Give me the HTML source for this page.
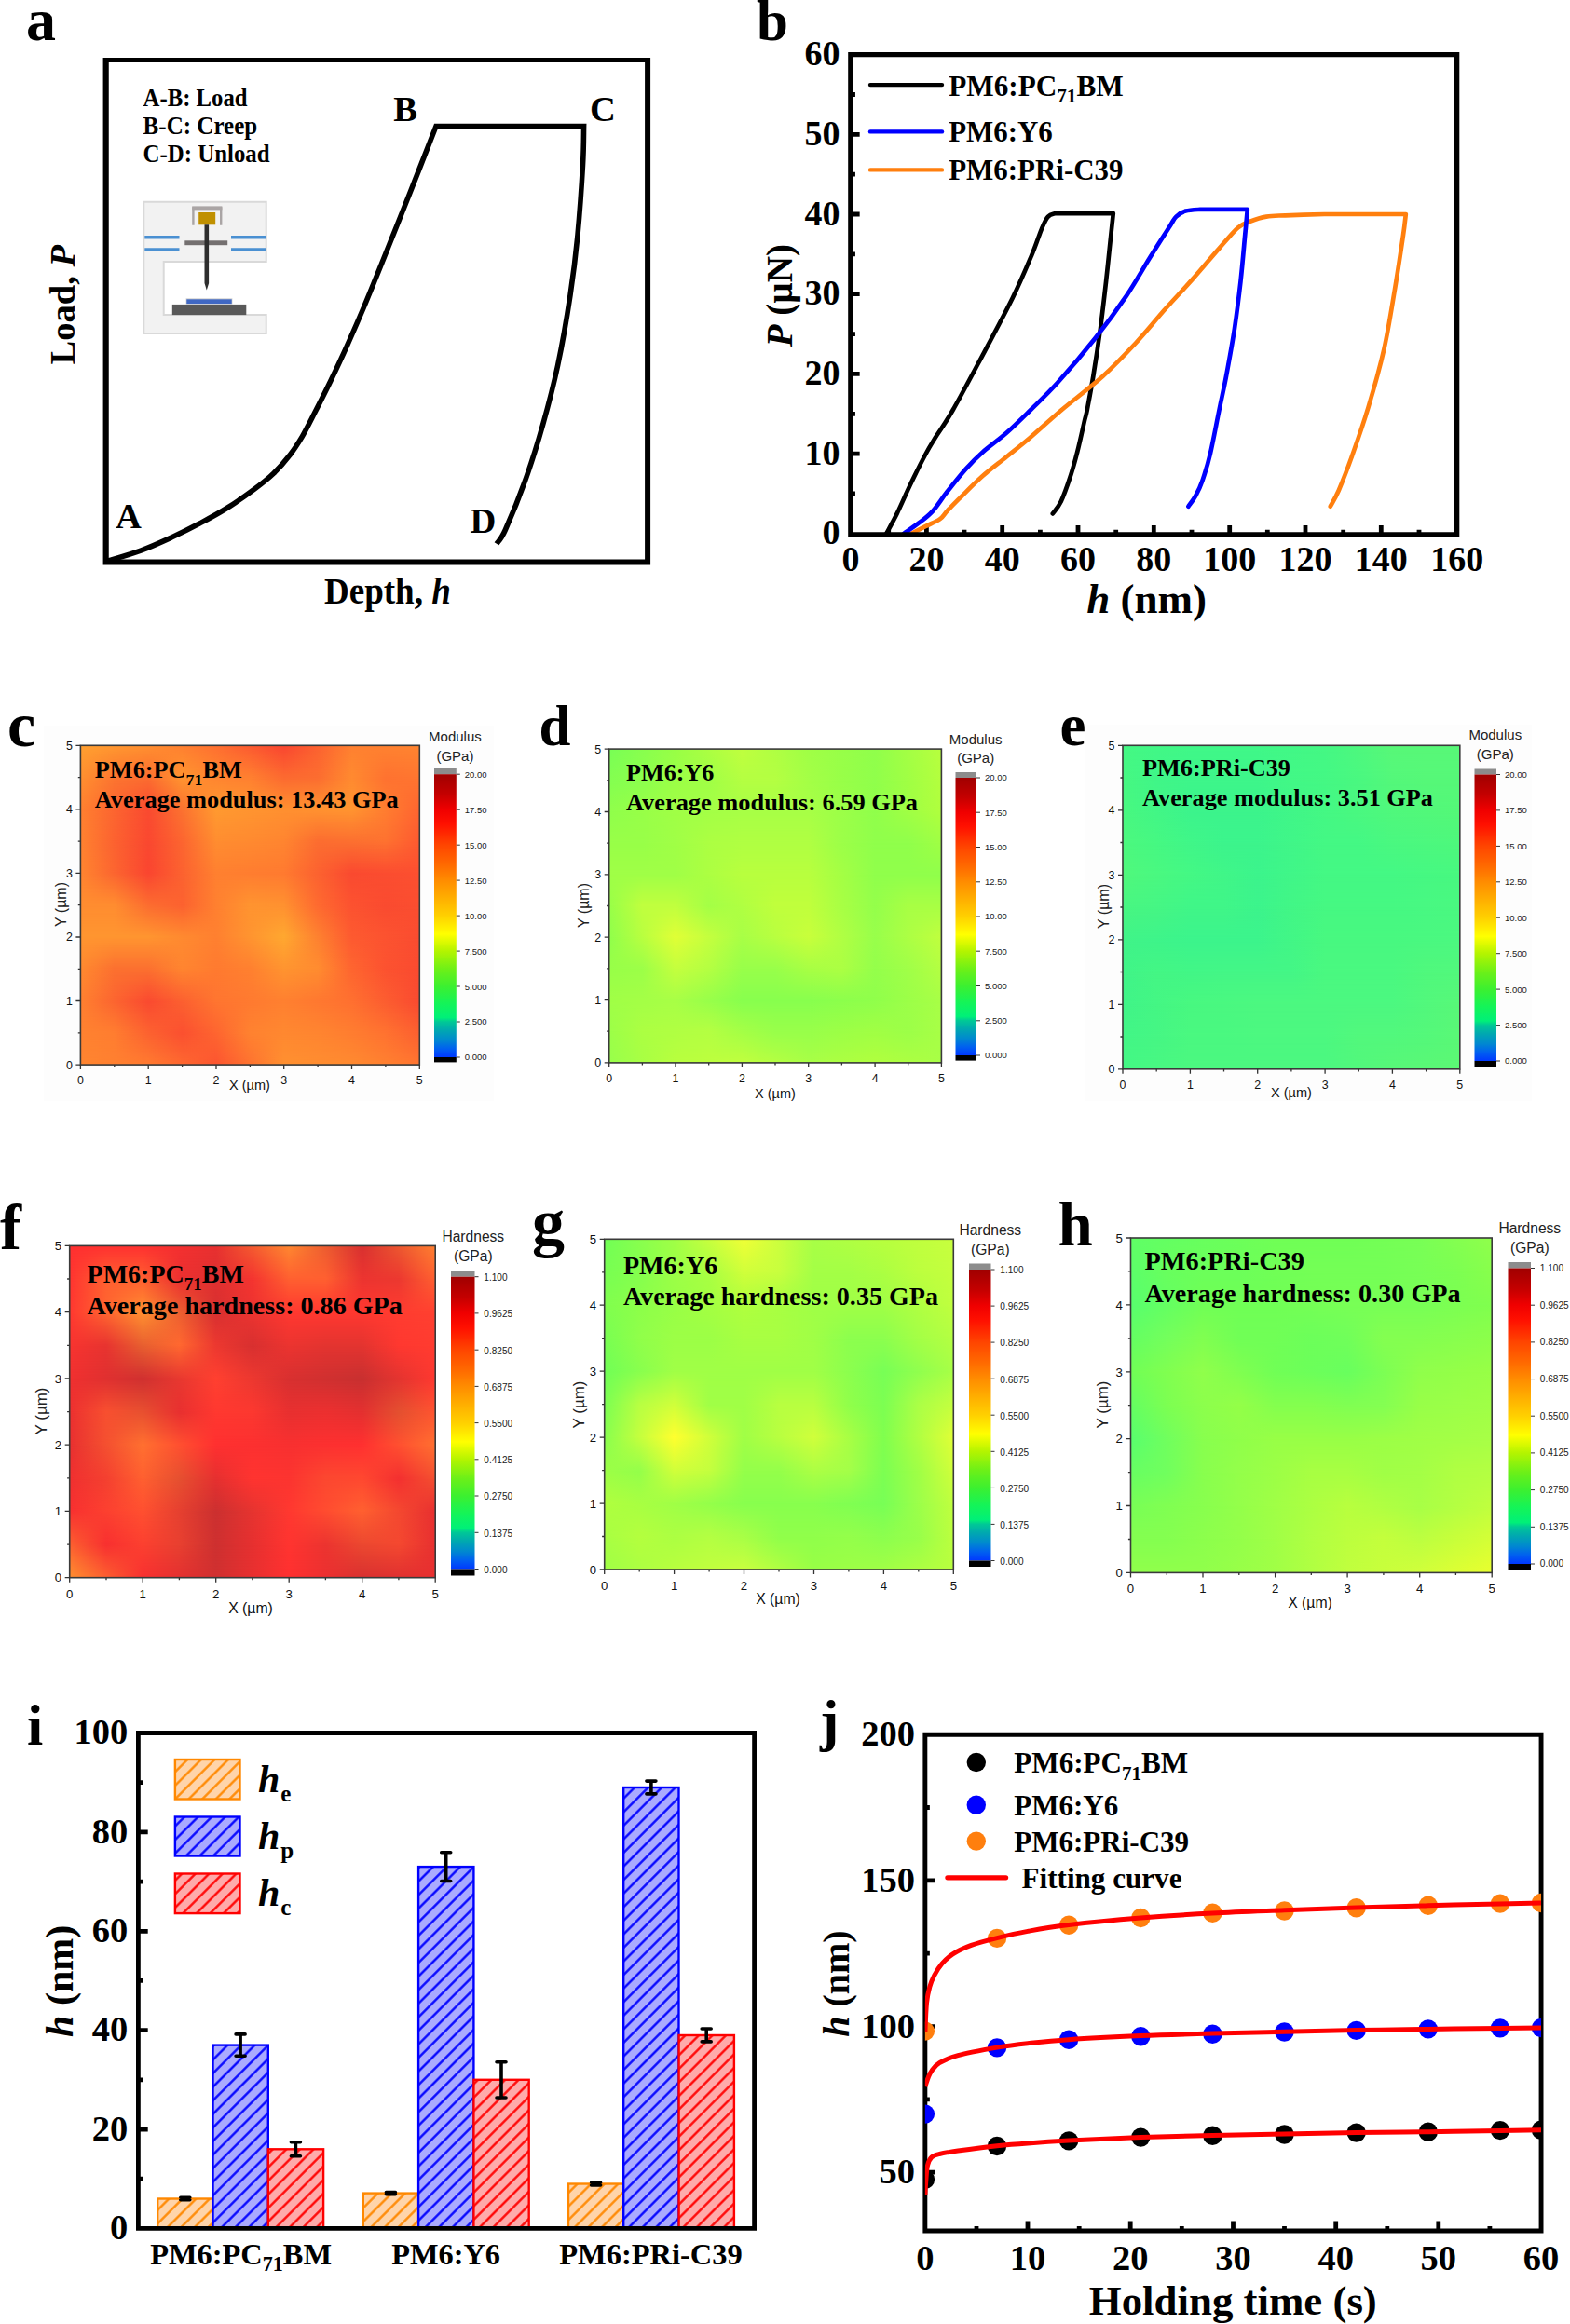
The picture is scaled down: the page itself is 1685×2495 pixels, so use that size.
<!DOCTYPE html>
<html lang="en"><head><meta charset="utf-8"><title>Nanoindentation figure</title>
<style>
html,body{margin:0;padding:0;background:#fff}
svg{display:block}
text{font-family:"Liberation Serif", serif;font-weight:bold;white-space:pre}
text.s{font-family:"Liberation Sans", sans-serif;font-weight:normal}
</style></head><body>
<svg width="1685" height="2495" viewBox="0 0 1685 2495">
<defs>
<linearGradient id="cbar" x1="0" y1="0" x2="0" y2="1"><stop offset="0" stop-color="#a00000"/><stop offset="0.07" stop-color="#c40000"/><stop offset="0.125" stop-color="#f00000"/><stop offset="0.175" stop-color="#ff1000"/><stop offset="0.25" stop-color="#ff4500"/><stop offset="0.32" stop-color="#ff6a00"/><stop offset="0.375" stop-color="#ff8c00"/><stop offset="0.44" stop-color="#ffb000"/><stop offset="0.5" stop-color="#ffd000"/><stop offset="0.565" stop-color="#ffff00"/><stop offset="0.625" stop-color="#b4f400"/><stop offset="0.69" stop-color="#6cf018"/><stop offset="0.75" stop-color="#3cf030"/><stop offset="0.81" stop-color="#14f458"/><stop offset="0.86" stop-color="#00f078"/><stop offset="0.875" stop-color="#00c896"/><stop offset="0.905" stop-color="#00a8b0"/><stop offset="0.94" stop-color="#0088d0"/><stop offset="0.97" stop-color="#0060f0"/><stop offset="1" stop-color="#0038ff"/></linearGradient>
<linearGradient id="vg" x1="0" y1="0" x2="0" y2="1"><stop offset="0" stop-color="#fff" stop-opacity="0"/><stop offset="1" stop-color="#fff" stop-opacity="1"/></linearGradient>
<mask id="vf" maskContentUnits="objectBoundingBox" style="mask-type:alpha"><rect width="1" height="1" fill="url(#vg)"/></mask>
<linearGradient id="c0"><stop offset="0.00" stop-color="#ffa030"/><stop offset="0.10" stop-color="#ff9830"/><stop offset="0.20" stop-color="#ff9030"/><stop offset="0.30" stop-color="#ff8030"/><stop offset="0.40" stop-color="#ff7030"/><stop offset="0.50" stop-color="#fc5a30"/><stop offset="0.60" stop-color="#fa4530"/><stop offset="0.70" stop-color="#fc6230"/><stop offset="0.80" stop-color="#ff8030"/><stop offset="0.90" stop-color="#ff8230"/><stop offset="1.00" stop-color="#ff8530"/></linearGradient>
<linearGradient id="c1"><stop offset="0.00" stop-color="#ff9030"/><stop offset="0.10" stop-color="#fc7530"/><stop offset="0.20" stop-color="#fc6d30"/><stop offset="0.30" stop-color="#ff9530"/><stop offset="0.40" stop-color="#ff8530"/><stop offset="0.50" stop-color="#ff8030"/><stop offset="0.60" stop-color="#fc6a30"/><stop offset="0.70" stop-color="#fc6d30"/><stop offset="0.80" stop-color="#ff8a30"/><stop offset="0.90" stop-color="#ff7230"/><stop offset="1.00" stop-color="#ff7530"/></linearGradient>
<linearGradient id="c2"><stop offset="0.00" stop-color="#ff8030"/><stop offset="0.10" stop-color="#fc6530"/><stop offset="0.20" stop-color="#fa4a30"/><stop offset="0.30" stop-color="#fc7230"/><stop offset="0.40" stop-color="#ff9a30"/><stop offset="0.50" stop-color="#ff9530"/><stop offset="0.60" stop-color="#ff9030"/><stop offset="0.70" stop-color="#ff9230"/><stop offset="0.80" stop-color="#ff9530"/><stop offset="0.90" stop-color="#ff7d30"/><stop offset="1.00" stop-color="#ff6530"/></linearGradient>
<linearGradient id="c3"><stop offset="0.00" stop-color="#ff8230"/><stop offset="0.10" stop-color="#fc6230"/><stop offset="0.20" stop-color="#fa4830"/><stop offset="0.30" stop-color="#fc6530"/><stop offset="0.40" stop-color="#ff8d30"/><stop offset="0.50" stop-color="#ff8a30"/><stop offset="0.60" stop-color="#ff8530"/><stop offset="0.70" stop-color="#fc6d30"/><stop offset="0.80" stop-color="#fc7030"/><stop offset="0.90" stop-color="#fe7230"/><stop offset="1.00" stop-color="#fe5a30"/></linearGradient>
<linearGradient id="c4"><stop offset="0.00" stop-color="#ff8530"/><stop offset="0.10" stop-color="#fc6530"/><stop offset="0.20" stop-color="#fa4530"/><stop offset="0.30" stop-color="#fc6230"/><stop offset="0.40" stop-color="#ff8030"/><stop offset="0.50" stop-color="#ff7d30"/><stop offset="0.60" stop-color="#ff7a30"/><stop offset="0.70" stop-color="#fc6230"/><stop offset="0.80" stop-color="#fa4a30"/><stop offset="0.90" stop-color="#fb4d30"/><stop offset="1.00" stop-color="#fc5030"/></linearGradient>
<linearGradient id="c5"><stop offset="0.00" stop-color="#ff8d30"/><stop offset="0.10" stop-color="#ff8d30"/><stop offset="0.20" stop-color="#fc6d30"/><stop offset="0.30" stop-color="#fc6230"/><stop offset="0.40" stop-color="#ff8030"/><stop offset="0.50" stop-color="#ff9430"/><stop offset="0.60" stop-color="#ff9130"/><stop offset="0.70" stop-color="#fe6a30"/><stop offset="0.80" stop-color="#fc5230"/><stop offset="0.90" stop-color="#fa4b30"/><stop offset="1.00" stop-color="#fb4e30"/></linearGradient>
<linearGradient id="c6"><stop offset="0.00" stop-color="#ff9530"/><stop offset="0.10" stop-color="#ff9530"/><stop offset="0.20" stop-color="#ff9530"/><stop offset="0.30" stop-color="#ff8a30"/><stop offset="0.40" stop-color="#ff8030"/><stop offset="0.50" stop-color="#ff9430"/><stop offset="0.60" stop-color="#ffa830"/><stop offset="0.70" stop-color="#fe8130"/><stop offset="0.80" stop-color="#fd5a30"/><stop offset="0.90" stop-color="#fc5330"/><stop offset="1.00" stop-color="#fa4c30"/></linearGradient>
<linearGradient id="c7"><stop offset="0.00" stop-color="#ff8a30"/><stop offset="0.10" stop-color="#fc7030"/><stop offset="0.20" stop-color="#fc7030"/><stop offset="0.30" stop-color="#ff8530"/><stop offset="0.40" stop-color="#ff7a30"/><stop offset="0.50" stop-color="#ff8030"/><stop offset="0.60" stop-color="#ff9430"/><stop offset="0.70" stop-color="#ff8c30"/><stop offset="0.80" stop-color="#fe6530"/><stop offset="0.90" stop-color="#fc5230"/><stop offset="1.00" stop-color="#fa4b30"/></linearGradient>
<linearGradient id="c8"><stop offset="0.00" stop-color="#ff8030"/><stop offset="0.10" stop-color="#fc6530"/><stop offset="0.20" stop-color="#fa4a30"/><stop offset="0.30" stop-color="#fc6030"/><stop offset="0.40" stop-color="#ff7530"/><stop offset="0.50" stop-color="#ff7a30"/><stop offset="0.60" stop-color="#ff8030"/><stop offset="0.70" stop-color="#ff7830"/><stop offset="0.80" stop-color="#ff7030"/><stop offset="0.90" stop-color="#fc5d30"/><stop offset="1.00" stop-color="#fa4a30"/></linearGradient>
<linearGradient id="c9"><stop offset="0.00" stop-color="#ff8230"/><stop offset="0.10" stop-color="#ff7d30"/><stop offset="0.20" stop-color="#fc6230"/><stop offset="0.30" stop-color="#fb5030"/><stop offset="0.40" stop-color="#fe6530"/><stop offset="0.50" stop-color="#ff8230"/><stop offset="0.60" stop-color="#ff8830"/><stop offset="0.70" stop-color="#ff8530"/><stop offset="0.80" stop-color="#ff7d30"/><stop offset="0.90" stop-color="#ff7230"/><stop offset="1.00" stop-color="#fc6030"/></linearGradient>
<linearGradient id="c10"><stop offset="0.00" stop-color="#ff8530"/><stop offset="0.10" stop-color="#ff8030"/><stop offset="0.20" stop-color="#ff7a30"/><stop offset="0.30" stop-color="#fe6830"/><stop offset="0.40" stop-color="#fc5530"/><stop offset="0.50" stop-color="#fe7230"/><stop offset="0.60" stop-color="#ff9030"/><stop offset="0.70" stop-color="#ff8d30"/><stop offset="0.80" stop-color="#ff8a30"/><stop offset="0.90" stop-color="#ff8030"/><stop offset="1.00" stop-color="#ff7530"/></linearGradient>
<linearGradient id="d0"><stop offset="0.00" stop-color="#78ff56"/><stop offset="0.10" stop-color="#88ff4e"/><stop offset="0.20" stop-color="#98ff46"/><stop offset="0.30" stop-color="#acff42"/><stop offset="0.40" stop-color="#c0ff3e"/><stop offset="0.50" stop-color="#b0ff42"/><stop offset="0.60" stop-color="#a0ff46"/><stop offset="0.70" stop-color="#98ff48"/><stop offset="0.80" stop-color="#90ff4b"/><stop offset="0.90" stop-color="#a4ff44"/><stop offset="1.00" stop-color="#b8ff3e"/></linearGradient>
<linearGradient id="d1"><stop offset="0.00" stop-color="#84ff50"/><stop offset="0.10" stop-color="#8cff4e"/><stop offset="0.20" stop-color="#9cff46"/><stop offset="0.30" stop-color="#a0ff46"/><stop offset="0.40" stop-color="#b4ff42"/><stop offset="0.50" stop-color="#b4ff42"/><stop offset="0.60" stop-color="#a4ff46"/><stop offset="0.70" stop-color="#98ff48"/><stop offset="0.80" stop-color="#90ff4b"/><stop offset="0.90" stop-color="#a0ff44"/><stop offset="1.00" stop-color="#b4ff3e"/></linearGradient>
<linearGradient id="d2"><stop offset="0.00" stop-color="#90ff4b"/><stop offset="0.10" stop-color="#98ff48"/><stop offset="0.20" stop-color="#a0ff46"/><stop offset="0.30" stop-color="#a4ff46"/><stop offset="0.40" stop-color="#a8ff46"/><stop offset="0.50" stop-color="#a8ff46"/><stop offset="0.60" stop-color="#a8ff46"/><stop offset="0.70" stop-color="#9cff48"/><stop offset="0.80" stop-color="#90ff4b"/><stop offset="0.90" stop-color="#a0ff44"/><stop offset="1.00" stop-color="#b0ff3e"/></linearGradient>
<linearGradient id="d3"><stop offset="0.00" stop-color="#98ff48"/><stop offset="0.10" stop-color="#98ff48"/><stop offset="0.20" stop-color="#a0ff46"/><stop offset="0.30" stop-color="#acff42"/><stop offset="0.40" stop-color="#b0ff42"/><stop offset="0.50" stop-color="#b0ff42"/><stop offset="0.60" stop-color="#b0ff42"/><stop offset="0.70" stop-color="#9cff48"/><stop offset="0.80" stop-color="#90ff4b"/><stop offset="0.90" stop-color="#90ff4b"/><stop offset="1.00" stop-color="#a0ff44"/></linearGradient>
<linearGradient id="d4"><stop offset="0.00" stop-color="#a0ff46"/><stop offset="0.10" stop-color="#a0ff46"/><stop offset="0.20" stop-color="#a0ff46"/><stop offset="0.30" stop-color="#acff42"/><stop offset="0.40" stop-color="#b8ff3e"/><stop offset="0.50" stop-color="#b8ff3e"/><stop offset="0.60" stop-color="#b8ff3e"/><stop offset="0.70" stop-color="#a4ff44"/><stop offset="0.80" stop-color="#90ff4b"/><stop offset="0.90" stop-color="#90ff4b"/><stop offset="1.00" stop-color="#90ff4b"/></linearGradient>
<linearGradient id="d5"><stop offset="0.00" stop-color="#98ff48"/><stop offset="0.10" stop-color="#c0ff3e"/><stop offset="0.20" stop-color="#c0ff3e"/><stop offset="0.30" stop-color="#a4ff46"/><stop offset="0.40" stop-color="#b0ff42"/><stop offset="0.50" stop-color="#c0ff3c"/><stop offset="0.60" stop-color="#c0ff3c"/><stop offset="0.70" stop-color="#a8ff44"/><stop offset="0.80" stop-color="#94ff4b"/><stop offset="0.90" stop-color="#a8ff44"/><stop offset="1.00" stop-color="#a8ff44"/></linearGradient>
<linearGradient id="d6"><stop offset="0.00" stop-color="#90ff4b"/><stop offset="0.10" stop-color="#b8ff40"/><stop offset="0.20" stop-color="#e0ff36"/><stop offset="0.30" stop-color="#c4ff3e"/><stop offset="0.40" stop-color="#a8ff46"/><stop offset="0.50" stop-color="#b8ff40"/><stop offset="0.60" stop-color="#c8ff3b"/><stop offset="0.70" stop-color="#b0ff43"/><stop offset="0.80" stop-color="#98ff4b"/><stop offset="0.90" stop-color="#acff44"/><stop offset="1.00" stop-color="#c0ff3e"/></linearGradient>
<linearGradient id="d7"><stop offset="0.00" stop-color="#98ff48"/><stop offset="0.10" stop-color="#9cff48"/><stop offset="0.20" stop-color="#c4ff3e"/><stop offset="0.30" stop-color="#b4ff42"/><stop offset="0.40" stop-color="#98ff4a"/><stop offset="0.50" stop-color="#98ff4a"/><stop offset="0.60" stop-color="#a8ff44"/><stop offset="0.70" stop-color="#acff43"/><stop offset="0.80" stop-color="#94ff4b"/><stop offset="0.90" stop-color="#a0ff48"/><stop offset="1.00" stop-color="#b4ff42"/></linearGradient>
<linearGradient id="d8"><stop offset="0.00" stop-color="#a0ff46"/><stop offset="0.10" stop-color="#a4ff46"/><stop offset="0.20" stop-color="#a8ff46"/><stop offset="0.30" stop-color="#98ff4a"/><stop offset="0.40" stop-color="#88ff4e"/><stop offset="0.50" stop-color="#88ff4e"/><stop offset="0.60" stop-color="#88ff4e"/><stop offset="0.70" stop-color="#8cff4c"/><stop offset="0.80" stop-color="#90ff4b"/><stop offset="0.90" stop-color="#9cff48"/><stop offset="1.00" stop-color="#a8ff46"/></linearGradient>
<linearGradient id="d9"><stop offset="0.00" stop-color="#9cff48"/><stop offset="0.10" stop-color="#acff42"/><stop offset="0.20" stop-color="#b0ff42"/><stop offset="0.30" stop-color="#b4ff42"/><stop offset="0.40" stop-color="#a4ff46"/><stop offset="0.50" stop-color="#98ff4a"/><stop offset="0.60" stop-color="#98ff4a"/><stop offset="0.70" stop-color="#9cff46"/><stop offset="0.80" stop-color="#a0ff44"/><stop offset="0.90" stop-color="#9cff48"/><stop offset="1.00" stop-color="#a8ff46"/></linearGradient>
<linearGradient id="d10"><stop offset="0.00" stop-color="#98ff4b"/><stop offset="0.10" stop-color="#a8ff44"/><stop offset="0.20" stop-color="#b8ff3e"/><stop offset="0.30" stop-color="#bcff3e"/><stop offset="0.40" stop-color="#c0ff3e"/><stop offset="0.50" stop-color="#b4ff42"/><stop offset="0.60" stop-color="#a8ff46"/><stop offset="0.70" stop-color="#acff42"/><stop offset="0.80" stop-color="#b0ff3e"/><stop offset="0.90" stop-color="#acff42"/><stop offset="1.00" stop-color="#a8ff46"/></linearGradient>
<linearGradient id="e0"><stop offset="0.00" stop-color="#44f884"/><stop offset="0.10" stop-color="#42f886"/><stop offset="0.20" stop-color="#40f888"/><stop offset="0.30" stop-color="#40f888"/><stop offset="0.40" stop-color="#40f888"/><stop offset="0.50" stop-color="#42f886"/><stop offset="0.60" stop-color="#44f884"/><stop offset="0.70" stop-color="#4ef87e"/><stop offset="0.80" stop-color="#58f878"/><stop offset="0.90" stop-color="#58f878"/><stop offset="1.00" stop-color="#58f878"/></linearGradient>
<linearGradient id="e1"><stop offset="0.00" stop-color="#46f882"/><stop offset="0.10" stop-color="#40f688"/><stop offset="0.20" stop-color="#3ef68a"/><stop offset="0.30" stop-color="#3ef68a"/><stop offset="0.40" stop-color="#3ef68a"/><stop offset="0.50" stop-color="#42f886"/><stop offset="0.60" stop-color="#44f884"/><stop offset="0.70" stop-color="#4af880"/><stop offset="0.80" stop-color="#54f87a"/><stop offset="0.90" stop-color="#56f878"/><stop offset="1.00" stop-color="#56f878"/></linearGradient>
<linearGradient id="e2"><stop offset="0.00" stop-color="#48f880"/><stop offset="0.10" stop-color="#42f686"/><stop offset="0.20" stop-color="#3cf48c"/><stop offset="0.30" stop-color="#3cf48c"/><stop offset="0.40" stop-color="#3cf48c"/><stop offset="0.50" stop-color="#40f688"/><stop offset="0.60" stop-color="#44f884"/><stop offset="0.70" stop-color="#4af880"/><stop offset="0.80" stop-color="#50f87c"/><stop offset="0.90" stop-color="#52f87a"/><stop offset="1.00" stop-color="#54f878"/></linearGradient>
<linearGradient id="e3"><stop offset="0.00" stop-color="#4cf87e"/><stop offset="0.10" stop-color="#46f882"/><stop offset="0.20" stop-color="#40f688"/><stop offset="0.30" stop-color="#3cf48c"/><stop offset="0.40" stop-color="#3cf48c"/><stop offset="0.50" stop-color="#40f688"/><stop offset="0.60" stop-color="#44f884"/><stop offset="0.70" stop-color="#44f884"/><stop offset="0.80" stop-color="#4af880"/><stop offset="0.90" stop-color="#4cf87e"/><stop offset="1.00" stop-color="#4ef87c"/></linearGradient>
<linearGradient id="e4"><stop offset="0.00" stop-color="#50f87c"/><stop offset="0.10" stop-color="#4af880"/><stop offset="0.20" stop-color="#44f884"/><stop offset="0.30" stop-color="#40f688"/><stop offset="0.40" stop-color="#3cf48c"/><stop offset="0.50" stop-color="#40f688"/><stop offset="0.60" stop-color="#44f884"/><stop offset="0.70" stop-color="#44f884"/><stop offset="0.80" stop-color="#44f884"/><stop offset="0.90" stop-color="#46f882"/><stop offset="1.00" stop-color="#48f880"/></linearGradient>
<linearGradient id="e5"><stop offset="0.00" stop-color="#48f682"/><stop offset="0.10" stop-color="#46f684"/><stop offset="0.20" stop-color="#40f688"/><stop offset="0.30" stop-color="#40f688"/><stop offset="0.40" stop-color="#3cf48c"/><stop offset="0.50" stop-color="#42f686"/><stop offset="0.60" stop-color="#46f882"/><stop offset="0.70" stop-color="#46f882"/><stop offset="0.80" stop-color="#46f882"/><stop offset="0.90" stop-color="#48f882"/><stop offset="1.00" stop-color="#4af880"/></linearGradient>
<linearGradient id="e6"><stop offset="0.00" stop-color="#40f488"/><stop offset="0.10" stop-color="#3ef48a"/><stop offset="0.20" stop-color="#3cf48c"/><stop offset="0.30" stop-color="#3cf48c"/><stop offset="0.40" stop-color="#3cf48c"/><stop offset="0.50" stop-color="#42f686"/><stop offset="0.60" stop-color="#48f880"/><stop offset="0.70" stop-color="#48f880"/><stop offset="0.80" stop-color="#48f880"/><stop offset="0.90" stop-color="#4af880"/><stop offset="1.00" stop-color="#4cf880"/></linearGradient>
<linearGradient id="e7"><stop offset="0.00" stop-color="#40f488"/><stop offset="0.10" stop-color="#44f684"/><stop offset="0.20" stop-color="#42f686"/><stop offset="0.30" stop-color="#44f686"/><stop offset="0.40" stop-color="#44f686"/><stop offset="0.50" stop-color="#44f686"/><stop offset="0.60" stop-color="#4af880"/><stop offset="0.70" stop-color="#4af880"/><stop offset="0.80" stop-color="#4af880"/><stop offset="0.90" stop-color="#50f87c"/><stop offset="1.00" stop-color="#52f87c"/></linearGradient>
<linearGradient id="e8"><stop offset="0.00" stop-color="#40f488"/><stop offset="0.10" stop-color="#44f684"/><stop offset="0.20" stop-color="#48f880"/><stop offset="0.30" stop-color="#4af880"/><stop offset="0.40" stop-color="#4cf880"/><stop offset="0.50" stop-color="#4cf880"/><stop offset="0.60" stop-color="#4cf880"/><stop offset="0.70" stop-color="#4cf880"/><stop offset="0.80" stop-color="#4cf880"/><stop offset="0.90" stop-color="#52f87c"/><stop offset="1.00" stop-color="#58f878"/></linearGradient>
<linearGradient id="e9"><stop offset="0.00" stop-color="#42f686"/><stop offset="0.10" stop-color="#46f684"/><stop offset="0.20" stop-color="#4af880"/><stop offset="0.30" stop-color="#4af880"/><stop offset="0.40" stop-color="#4cf880"/><stop offset="0.50" stop-color="#4cf880"/><stop offset="0.60" stop-color="#4cf880"/><stop offset="0.70" stop-color="#52f87c"/><stop offset="0.80" stop-color="#52f87c"/><stop offset="0.90" stop-color="#54f87a"/><stop offset="1.00" stop-color="#5af876"/></linearGradient>
<linearGradient id="e10"><stop offset="0.00" stop-color="#44f884"/><stop offset="0.10" stop-color="#48f882"/><stop offset="0.20" stop-color="#4cf880"/><stop offset="0.30" stop-color="#4cf880"/><stop offset="0.40" stop-color="#4cf880"/><stop offset="0.50" stop-color="#4cf880"/><stop offset="0.60" stop-color="#4cf880"/><stop offset="0.70" stop-color="#52f87c"/><stop offset="0.80" stop-color="#58f878"/><stop offset="0.90" stop-color="#5af876"/><stop offset="1.00" stop-color="#5cf874"/></linearGradient>
<linearGradient id="f0"><stop offset="0.00" stop-color="#ff3030"/><stop offset="0.10" stop-color="#ff3030"/><stop offset="0.20" stop-color="#ff3030"/><stop offset="0.30" stop-color="#f43030"/><stop offset="0.40" stop-color="#e83030"/><stop offset="0.50" stop-color="#f45c30"/><stop offset="0.60" stop-color="#ff8830"/><stop offset="0.70" stop-color="#ec5c30"/><stop offset="0.80" stop-color="#d83030"/><stop offset="0.90" stop-color="#ec5830"/><stop offset="1.00" stop-color="#ff8030"/></linearGradient>
<linearGradient id="f1"><stop offset="0.00" stop-color="#ff3430"/><stop offset="0.10" stop-color="#ff6030"/><stop offset="0.20" stop-color="#ff6030"/><stop offset="0.30" stop-color="#ec3030"/><stop offset="0.40" stop-color="#e03030"/><stop offset="0.50" stop-color="#f43430"/><stop offset="0.60" stop-color="#ff6030"/><stop offset="0.70" stop-color="#ff6030"/><stop offset="0.80" stop-color="#ec3430"/><stop offset="0.90" stop-color="#ec3830"/><stop offset="1.00" stop-color="#ff6030"/></linearGradient>
<linearGradient id="f2"><stop offset="0.00" stop-color="#ff3830"/><stop offset="0.10" stop-color="#ff6430"/><stop offset="0.20" stop-color="#ff9030"/><stop offset="0.30" stop-color="#ec6030"/><stop offset="0.40" stop-color="#d83030"/><stop offset="0.50" stop-color="#ec3430"/><stop offset="0.60" stop-color="#ff3830"/><stop offset="0.70" stop-color="#ff3830"/><stop offset="0.80" stop-color="#ff3830"/><stop offset="0.90" stop-color="#ff3c30"/><stop offset="1.00" stop-color="#ff4030"/></linearGradient>
<linearGradient id="f3"><stop offset="0.00" stop-color="#f83430"/><stop offset="0.10" stop-color="#e83430"/><stop offset="0.20" stop-color="#e86030"/><stop offset="0.30" stop-color="#ff6830"/><stop offset="0.40" stop-color="#ec3830"/><stop offset="0.50" stop-color="#d83030"/><stop offset="0.60" stop-color="#ec3430"/><stop offset="0.70" stop-color="#e43430"/><stop offset="0.80" stop-color="#e43430"/><stop offset="0.90" stop-color="#ff3830"/><stop offset="1.00" stop-color="#ff3c30"/></linearGradient>
<linearGradient id="f4"><stop offset="0.00" stop-color="#f03030"/><stop offset="0.10" stop-color="#e03030"/><stop offset="0.20" stop-color="#d03030"/><stop offset="0.30" stop-color="#e83830"/><stop offset="0.40" stop-color="#ff4030"/><stop offset="0.50" stop-color="#ec3830"/><stop offset="0.60" stop-color="#d83030"/><stop offset="0.70" stop-color="#d03030"/><stop offset="0.80" stop-color="#c83030"/><stop offset="0.90" stop-color="#e43430"/><stop offset="1.00" stop-color="#ff3830"/></linearGradient>
<linearGradient id="f5"><stop offset="0.00" stop-color="#ec3030"/><stop offset="0.10" stop-color="#f85030"/><stop offset="0.20" stop-color="#e85030"/><stop offset="0.30" stop-color="#e83030"/><stop offset="0.40" stop-color="#ff3830"/><stop offset="0.50" stop-color="#fc3830"/><stop offset="0.60" stop-color="#e83030"/><stop offset="0.70" stop-color="#ec3030"/><stop offset="0.80" stop-color="#e43030"/><stop offset="0.90" stop-color="#e45030"/><stop offset="1.00" stop-color="#ff5430"/></linearGradient>
<linearGradient id="f6"><stop offset="0.00" stop-color="#e83030"/><stop offset="0.10" stop-color="#f45030"/><stop offset="0.20" stop-color="#ff7030"/><stop offset="0.30" stop-color="#ff5030"/><stop offset="0.40" stop-color="#ff3030"/><stop offset="0.50" stop-color="#fc3030"/><stop offset="0.60" stop-color="#f83030"/><stop offset="0.70" stop-color="#fc3030"/><stop offset="0.80" stop-color="#ff3030"/><stop offset="0.90" stop-color="#ff5030"/><stop offset="1.00" stop-color="#ff7030"/></linearGradient>
<linearGradient id="f7"><stop offset="0.00" stop-color="#f03030"/><stop offset="0.10" stop-color="#f44030"/><stop offset="0.20" stop-color="#ff6030"/><stop offset="0.30" stop-color="#e65030"/><stop offset="0.40" stop-color="#e63030"/><stop offset="0.50" stop-color="#ff3430"/><stop offset="0.60" stop-color="#fc3430"/><stop offset="0.70" stop-color="#fc4830"/><stop offset="0.80" stop-color="#ff4830"/><stop offset="0.90" stop-color="#f43030"/><stop offset="1.00" stop-color="#f45030"/></linearGradient>
<linearGradient id="f8"><stop offset="0.00" stop-color="#f83030"/><stop offset="0.10" stop-color="#fc4030"/><stop offset="0.20" stop-color="#ff5030"/><stop offset="0.30" stop-color="#e64030"/><stop offset="0.40" stop-color="#cc3030"/><stop offset="0.50" stop-color="#e63430"/><stop offset="0.60" stop-color="#ff3830"/><stop offset="0.70" stop-color="#ff4c30"/><stop offset="0.80" stop-color="#ff6030"/><stop offset="0.90" stop-color="#f44830"/><stop offset="1.00" stop-color="#e83030"/></linearGradient>
<linearGradient id="f9"><stop offset="0.00" stop-color="#fc6030"/><stop offset="0.10" stop-color="#f83030"/><stop offset="0.20" stop-color="#fc4030"/><stop offset="0.30" stop-color="#e84030"/><stop offset="0.40" stop-color="#ce3030"/><stop offset="0.50" stop-color="#e63030"/><stop offset="0.60" stop-color="#ff3430"/><stop offset="0.70" stop-color="#ec3430"/><stop offset="0.80" stop-color="#ec4830"/><stop offset="0.90" stop-color="#f44830"/><stop offset="1.00" stop-color="#e83030"/></linearGradient>
<linearGradient id="f10"><stop offset="0.00" stop-color="#ff9030"/><stop offset="0.10" stop-color="#fc6030"/><stop offset="0.20" stop-color="#f83030"/><stop offset="0.30" stop-color="#e43030"/><stop offset="0.40" stop-color="#d03030"/><stop offset="0.50" stop-color="#e83030"/><stop offset="0.60" stop-color="#ff3030"/><stop offset="0.70" stop-color="#ec3030"/><stop offset="0.80" stop-color="#d83030"/><stop offset="0.90" stop-color="#e03030"/><stop offset="1.00" stop-color="#e83030"/></linearGradient>
<linearGradient id="g0"><stop offset="0.00" stop-color="#70ff56"/><stop offset="0.10" stop-color="#88ff4e"/><stop offset="0.20" stop-color="#a0ff46"/><stop offset="0.30" stop-color="#c8ff3e"/><stop offset="0.40" stop-color="#f0ff36"/><stop offset="0.50" stop-color="#ccff3e"/><stop offset="0.60" stop-color="#a8ff46"/><stop offset="0.70" stop-color="#b0ff42"/><stop offset="0.80" stop-color="#b8ff3e"/><stop offset="0.90" stop-color="#c0ff3e"/><stop offset="1.00" stop-color="#c8ff3e"/></linearGradient>
<linearGradient id="g1"><stop offset="0.00" stop-color="#78ff52"/><stop offset="0.10" stop-color="#84ff4e"/><stop offset="0.20" stop-color="#9cff46"/><stop offset="0.30" stop-color="#a8ff42"/><stop offset="0.40" stop-color="#d0ff3a"/><stop offset="0.50" stop-color="#c8ff3e"/><stop offset="0.60" stop-color="#a4ff46"/><stop offset="0.70" stop-color="#a4ff46"/><stop offset="0.80" stop-color="#acff42"/><stop offset="0.90" stop-color="#bcff3e"/><stop offset="1.00" stop-color="#c4ff3e"/></linearGradient>
<linearGradient id="g2"><stop offset="0.00" stop-color="#80ff4e"/><stop offset="0.10" stop-color="#8cff4a"/><stop offset="0.20" stop-color="#98ff46"/><stop offset="0.30" stop-color="#a4ff42"/><stop offset="0.40" stop-color="#b0ff3e"/><stop offset="0.50" stop-color="#a8ff42"/><stop offset="0.60" stop-color="#a0ff46"/><stop offset="0.70" stop-color="#a0ff46"/><stop offset="0.80" stop-color="#a0ff46"/><stop offset="0.90" stop-color="#b0ff42"/><stop offset="1.00" stop-color="#c0ff3e"/></linearGradient>
<linearGradient id="g3"><stop offset="0.00" stop-color="#78ff52"/><stop offset="0.10" stop-color="#90ff4a"/><stop offset="0.20" stop-color="#9cff46"/><stop offset="0.30" stop-color="#9cff46"/><stop offset="0.40" stop-color="#a8ff42"/><stop offset="0.50" stop-color="#a8ff42"/><stop offset="0.60" stop-color="#a0ff46"/><stop offset="0.70" stop-color="#8cff4e"/><stop offset="0.80" stop-color="#8cff4e"/><stop offset="0.90" stop-color="#a4ff46"/><stop offset="1.00" stop-color="#b4ff42"/></linearGradient>
<linearGradient id="g4"><stop offset="0.00" stop-color="#70ff56"/><stop offset="0.10" stop-color="#88ff4e"/><stop offset="0.20" stop-color="#a0ff46"/><stop offset="0.30" stop-color="#a0ff46"/><stop offset="0.40" stop-color="#a0ff46"/><stop offset="0.50" stop-color="#a0ff46"/><stop offset="0.60" stop-color="#a0ff46"/><stop offset="0.70" stop-color="#8cff4e"/><stop offset="0.80" stop-color="#78ff56"/><stop offset="0.90" stop-color="#90ff4e"/><stop offset="1.00" stop-color="#a8ff46"/></linearGradient>
<linearGradient id="g5"><stop offset="0.00" stop-color="#7cff52"/><stop offset="0.10" stop-color="#b8ff42"/><stop offset="0.20" stop-color="#d0ff3a"/><stop offset="0.30" stop-color="#a0ff46"/><stop offset="0.40" stop-color="#a0ff46"/><stop offset="0.50" stop-color="#b8ff40"/><stop offset="0.60" stop-color="#b8ff40"/><stop offset="0.70" stop-color="#90ff4a"/><stop offset="0.80" stop-color="#7cff52"/><stop offset="0.90" stop-color="#acff46"/><stop offset="1.00" stop-color="#c4ff3e"/></linearGradient>
<linearGradient id="g6"><stop offset="0.00" stop-color="#88ff4e"/><stop offset="0.10" stop-color="#c4ff3e"/><stop offset="0.20" stop-color="#ffff2e"/><stop offset="0.30" stop-color="#d0ff3a"/><stop offset="0.40" stop-color="#a0ff46"/><stop offset="0.50" stop-color="#b8ff40"/><stop offset="0.60" stop-color="#d0ff3b"/><stop offset="0.70" stop-color="#a8ff44"/><stop offset="0.80" stop-color="#80ff4e"/><stop offset="0.90" stop-color="#b0ff42"/><stop offset="1.00" stop-color="#e0ff36"/></linearGradient>
<linearGradient id="g7"><stop offset="0.00" stop-color="#9cff46"/><stop offset="0.10" stop-color="#94ff4a"/><stop offset="0.20" stop-color="#d0ff3a"/><stop offset="0.30" stop-color="#c4ff3e"/><stop offset="0.40" stop-color="#94ff4a"/><stop offset="0.50" stop-color="#94ff4a"/><stop offset="0.60" stop-color="#acff44"/><stop offset="0.70" stop-color="#a4ff48"/><stop offset="0.80" stop-color="#7cff52"/><stop offset="0.90" stop-color="#a0ff46"/><stop offset="1.00" stop-color="#d0ff3a"/></linearGradient>
<linearGradient id="g8"><stop offset="0.00" stop-color="#b0ff3e"/><stop offset="0.10" stop-color="#a8ff42"/><stop offset="0.20" stop-color="#a0ff46"/><stop offset="0.30" stop-color="#94ff4a"/><stop offset="0.40" stop-color="#88ff4e"/><stop offset="0.50" stop-color="#88ff4e"/><stop offset="0.60" stop-color="#88ff4e"/><stop offset="0.70" stop-color="#80ff52"/><stop offset="0.80" stop-color="#78ff56"/><stop offset="0.90" stop-color="#9cff4a"/><stop offset="1.00" stop-color="#c0ff3e"/></linearGradient>
<linearGradient id="g9"><stop offset="0.00" stop-color="#a8ff42"/><stop offset="0.10" stop-color="#b4ff3e"/><stop offset="0.20" stop-color="#acff42"/><stop offset="0.30" stop-color="#b4ff42"/><stop offset="0.40" stop-color="#a8ff46"/><stop offset="0.50" stop-color="#90ff4a"/><stop offset="0.60" stop-color="#90ff4a"/><stop offset="0.70" stop-color="#94ff4a"/><stop offset="0.80" stop-color="#8cff4e"/><stop offset="0.90" stop-color="#98ff4a"/><stop offset="1.00" stop-color="#bcff3e"/></linearGradient>
<linearGradient id="g10"><stop offset="0.00" stop-color="#a0ff46"/><stop offset="0.10" stop-color="#acff42"/><stop offset="0.20" stop-color="#b8ff3e"/><stop offset="0.30" stop-color="#c0ff3e"/><stop offset="0.40" stop-color="#c8ff3e"/><stop offset="0.50" stop-color="#b0ff42"/><stop offset="0.60" stop-color="#98ff46"/><stop offset="0.70" stop-color="#9cff46"/><stop offset="0.80" stop-color="#a0ff46"/><stop offset="0.90" stop-color="#acff42"/><stop offset="1.00" stop-color="#b8ff3e"/></linearGradient>
<linearGradient id="h0"><stop offset="0.00" stop-color="#60ff66"/><stop offset="0.10" stop-color="#64ff62"/><stop offset="0.20" stop-color="#68ff5e"/><stop offset="0.30" stop-color="#6cff5a"/><stop offset="0.40" stop-color="#70ff56"/><stop offset="0.50" stop-color="#70ff56"/><stop offset="0.60" stop-color="#70ff56"/><stop offset="0.70" stop-color="#74ff56"/><stop offset="0.80" stop-color="#78ff56"/><stop offset="0.90" stop-color="#84ff50"/><stop offset="1.00" stop-color="#90ff4b"/></linearGradient>
<linearGradient id="h1"><stop offset="0.00" stop-color="#5cff6a"/><stop offset="0.10" stop-color="#68ff5e"/><stop offset="0.20" stop-color="#6cff5a"/><stop offset="0.30" stop-color="#6cff5a"/><stop offset="0.40" stop-color="#70ff56"/><stop offset="0.50" stop-color="#74ff56"/><stop offset="0.60" stop-color="#74ff56"/><stop offset="0.70" stop-color="#74ff56"/><stop offset="0.80" stop-color="#78ff56"/><stop offset="0.90" stop-color="#7cff52"/><stop offset="1.00" stop-color="#88ff4c"/></linearGradient>
<linearGradient id="h2"><stop offset="0.00" stop-color="#58ff6e"/><stop offset="0.10" stop-color="#64ff62"/><stop offset="0.20" stop-color="#70ff56"/><stop offset="0.30" stop-color="#70ff56"/><stop offset="0.40" stop-color="#70ff56"/><stop offset="0.50" stop-color="#74ff56"/><stop offset="0.60" stop-color="#78ff56"/><stop offset="0.70" stop-color="#78ff56"/><stop offset="0.80" stop-color="#78ff56"/><stop offset="0.90" stop-color="#7cff52"/><stop offset="1.00" stop-color="#80ff4e"/></linearGradient>
<linearGradient id="h3"><stop offset="0.00" stop-color="#64ff62"/><stop offset="0.10" stop-color="#74ff5c"/><stop offset="0.20" stop-color="#80ff50"/><stop offset="0.30" stop-color="#70ff56"/><stop offset="0.40" stop-color="#70ff56"/><stop offset="0.50" stop-color="#6cff5a"/><stop offset="0.60" stop-color="#70ff5a"/><stop offset="0.70" stop-color="#84ff50"/><stop offset="0.80" stop-color="#84ff50"/><stop offset="0.90" stop-color="#88ff4e"/><stop offset="1.00" stop-color="#8cff4a"/></linearGradient>
<linearGradient id="h4"><stop offset="0.00" stop-color="#70ff56"/><stop offset="0.10" stop-color="#80ff50"/><stop offset="0.20" stop-color="#90ff4b"/><stop offset="0.30" stop-color="#80ff50"/><stop offset="0.40" stop-color="#70ff56"/><stop offset="0.50" stop-color="#6cff5a"/><stop offset="0.60" stop-color="#68ff5e"/><stop offset="0.70" stop-color="#7cff54"/><stop offset="0.80" stop-color="#90ff4b"/><stop offset="0.90" stop-color="#94ff48"/><stop offset="1.00" stop-color="#98ff46"/></linearGradient>
<linearGradient id="h5"><stop offset="0.00" stop-color="#64ff62"/><stop offset="0.10" stop-color="#7cff52"/><stop offset="0.20" stop-color="#8cff4c"/><stop offset="0.30" stop-color="#94ff48"/><stop offset="0.40" stop-color="#84ff4e"/><stop offset="0.50" stop-color="#84ff4e"/><stop offset="0.60" stop-color="#80ff52"/><stop offset="0.70" stop-color="#84ff52"/><stop offset="0.80" stop-color="#98ff48"/><stop offset="0.90" stop-color="#9cff48"/><stop offset="1.00" stop-color="#a0ff46"/></linearGradient>
<linearGradient id="h6"><stop offset="0.00" stop-color="#58ff6e"/><stop offset="0.10" stop-color="#70ff5e"/><stop offset="0.20" stop-color="#88ff4e"/><stop offset="0.30" stop-color="#90ff4a"/><stop offset="0.40" stop-color="#98ff46"/><stop offset="0.50" stop-color="#98ff46"/><stop offset="0.60" stop-color="#98ff46"/><stop offset="0.70" stop-color="#9cff46"/><stop offset="0.80" stop-color="#a0ff46"/><stop offset="0.90" stop-color="#a4ff46"/><stop offset="1.00" stop-color="#a8ff46"/></linearGradient>
<linearGradient id="h7"><stop offset="0.00" stop-color="#68ff62"/><stop offset="0.10" stop-color="#70ff5e"/><stop offset="0.20" stop-color="#88ff4e"/><stop offset="0.30" stop-color="#94ff4a"/><stop offset="0.40" stop-color="#9cff46"/><stop offset="0.50" stop-color="#a8ff42"/><stop offset="0.60" stop-color="#a8ff42"/><stop offset="0.70" stop-color="#a0ff46"/><stop offset="0.80" stop-color="#a4ff46"/><stop offset="0.90" stop-color="#b0ff42"/><stop offset="1.00" stop-color="#b4ff42"/></linearGradient>
<linearGradient id="h8"><stop offset="0.00" stop-color="#78ff56"/><stop offset="0.10" stop-color="#80ff52"/><stop offset="0.20" stop-color="#88ff4e"/><stop offset="0.30" stop-color="#94ff4a"/><stop offset="0.40" stop-color="#a0ff46"/><stop offset="0.50" stop-color="#acff42"/><stop offset="0.60" stop-color="#b8ff3e"/><stop offset="0.70" stop-color="#b0ff42"/><stop offset="0.80" stop-color="#a8ff46"/><stop offset="0.90" stop-color="#b4ff42"/><stop offset="1.00" stop-color="#c0ff3e"/></linearGradient>
<linearGradient id="h9"><stop offset="0.00" stop-color="#84ff50"/><stop offset="0.10" stop-color="#84ff50"/><stop offset="0.20" stop-color="#8cff4c"/><stop offset="0.30" stop-color="#94ff4a"/><stop offset="0.40" stop-color="#a0ff46"/><stop offset="0.50" stop-color="#b0ff42"/><stop offset="0.60" stop-color="#bcff3e"/><stop offset="0.70" stop-color="#c4ff3c"/><stop offset="0.80" stop-color="#bcff40"/><stop offset="0.90" stop-color="#c8ff3a"/><stop offset="1.00" stop-color="#d4ff36"/></linearGradient>
<linearGradient id="h10"><stop offset="0.00" stop-color="#90ff4b"/><stop offset="0.10" stop-color="#90ff4b"/><stop offset="0.20" stop-color="#90ff4b"/><stop offset="0.30" stop-color="#98ff48"/><stop offset="0.40" stop-color="#a0ff46"/><stop offset="0.50" stop-color="#b0ff42"/><stop offset="0.60" stop-color="#c0ff3e"/><stop offset="0.70" stop-color="#c8ff3c"/><stop offset="0.80" stop-color="#d0ff3b"/><stop offset="0.90" stop-color="#dcff34"/><stop offset="1.00" stop-color="#e8ff2e"/></linearGradient>
<pattern id="ho" width="10.3" height="10.3" patternUnits="userSpaceOnUse" patternTransform="rotate(-45)"><rect width="10.3" height="10.3" fill="#ffd4aa"/><path d="M0,5.15H10.3" stroke="#ff8800" stroke-width="2.3"/></pattern>
<pattern id="hb" width="10.3" height="10.3" patternUnits="userSpaceOnUse" patternTransform="rotate(-45)"><rect width="10.3" height="10.3" fill="#aaaaff"/><path d="M0,5.15H10.3" stroke="#0000ff" stroke-width="2.3"/></pattern>
<pattern id="hr" width="10.3" height="10.3" patternUnits="userSpaceOnUse" patternTransform="rotate(-45)"><rect width="10.3" height="10.3" fill="#ffaaaa"/><path d="M0,5.15H10.3" stroke="#ff0000" stroke-width="2.3"/></pattern>
</defs>
<rect width="1685" height="2495" fill="#fff"/>
<text x="28.0" y="43.0" font-size="64">a</text>
<path fill-rule="evenodd" d="M110.6,62H698.1V606.6H110.6ZM116.75,66.9V600.5H692.1V66.9Z"/>
<text x="153.6" y="114.2" font-size="26.4" textLength="112.0" lengthAdjust="spacingAndGlyphs">A-B: Load</text>
<text x="153.6" y="144.3" font-size="26.4" textLength="122.6" lengthAdjust="spacingAndGlyphs">B-C: Creep</text>
<text x="153.6" y="174.4" font-size="26.4" textLength="136.0" lengthAdjust="spacingAndGlyphs">C-D: Unload</text>
<text x="422.3" y="130.4" font-size="38.6">B</text>
<text x="633.0" y="130.4" font-size="38.6">C</text>
<text x="124.0" y="566.5" font-size="38.6">A</text>
<text x="504.5" y="572.0" font-size="38.6">D</text>
<text x="80.0" y="327.2" font-size="38.6" text-anchor="middle" transform="rotate(-90 80.0 327.2)">Load, <tspan font-style="italic">P</tspan></text>
<text x="415.9" y="647.6" font-size="39" text-anchor="middle" textLength="136.0" lengthAdjust="spacingAndGlyphs">Depth, <tspan font-style="italic">h</tspan></text>
<path d="M114.5,602.5 C120.6,600.6 139.4,595.4 151.0,591.1 C162.6,586.9 173.4,581.9 184.0,577.0 C194.6,572.1 204.8,567.0 214.6,561.8 C224.4,556.6 232.9,552.1 242.7,546.0 C252.5,539.9 264.7,531.3 273.2,525.0 C281.7,518.7 287.2,514.5 293.6,508.3 C300.0,502.1 306.4,494.6 311.5,488.0 C316.6,481.4 319.9,476.1 324.2,468.9 C328.4,461.7 331.9,454.6 337.0,444.6 C342.1,434.6 348.9,421.3 354.8,409.0 C360.7,396.7 366.7,384.0 372.6,370.8 C378.5,357.6 384.5,344.0 390.4,330.0 C396.3,316.0 399.7,307.5 408.0,287.0 C416.3,266.5 430.0,232.2 440.0,207.0 C450.0,181.8 463.3,147.4 468.0,135.5 L626.6,135.5 C626.4,142.4 626.6,157.6 625.5,177.0 C624.4,196.4 622.2,228.7 620.0,252.0 C617.8,275.3 615.5,293.7 612.0,317.0 C608.5,340.3 603.6,368.8 598.7,392.0 C593.8,415.2 588.4,435.4 582.6,456.0 C576.8,476.6 570.5,496.7 563.8,515.5 C557.1,534.3 547.4,557.6 542.3,569.0 C537.2,580.4 534.5,581.2 533.0,583.7" fill="none" stroke="#000" stroke-width="5.6" stroke-linejoin="miter"/>
<g>
<path d="M154.3,216.8H285.7V281H175.7V338.1H285.7V358H154.3Z" fill="#f2f2f2" stroke="#d9d9d9" stroke-width="2"/>
<path d="M207.4,241.8V223.4H237.2V241.8" fill="none" stroke="#aaa5a5" stroke-width="2.4"/>
<rect x="206.2" y="221.4" width="32.2" height="4" fill="#aaa5a5"/>
<rect x="213.2" y="228" width="18" height="13.3" fill="#c09000"/>
<rect x="198.3" y="258.3" width="45.9" height="4.9" fill="#747070"/>
<path d="M219.5,241.3H224.1V304L221.8,311.5L219.5,304Z" fill="#2e2e2e"/>
<path d="M155.3,254.8H192.5M248,254.8H285.2" stroke="#4a90d2" stroke-width="3.4"/>
<path d="M155.3,268H192.5M248,268H285.2" stroke="#4a90d2" stroke-width="3.4"/>
<rect x="199.6" y="320.3" width="49.8" height="6.2" fill="#d0d0d0"/>
<rect x="200.3" y="321.3" width="48.4" height="4.8" fill="#4068c4"/>
<rect x="184.8" y="326.9" width="79.5" height="11.2" fill="#595959"/>
</g>
<text x="812.0" y="42.5" font-size="61">b</text>
<text x="901.5" y="584.4" font-size="38" text-anchor="end">0</text>
<text x="901.5" y="498.7" font-size="38" text-anchor="end">10</text>
<text x="901.5" y="413.0" font-size="38" text-anchor="end">20</text>
<text x="901.5" y="327.3" font-size="38" text-anchor="end">30</text>
<text x="901.5" y="241.6" font-size="38" text-anchor="end">40</text>
<text x="901.5" y="155.9" font-size="38" text-anchor="end">50</text>
<text x="901.5" y="70.2" font-size="38" text-anchor="end">60</text>
<text x="913.0" y="613.2" font-size="38" text-anchor="middle">0</text>
<text x="994.4" y="613.2" font-size="38" text-anchor="middle">20</text>
<text x="1075.7" y="613.2" font-size="38" text-anchor="middle">40</text>
<text x="1157.0" y="613.2" font-size="38" text-anchor="middle">60</text>
<text x="1238.3" y="613.2" font-size="38" text-anchor="middle">80</text>
<text x="1319.7" y="613.2" font-size="38" text-anchor="middle">100</text>
<text x="1401.0" y="613.2" font-size="38" text-anchor="middle">120</text>
<text x="1482.3" y="613.2" font-size="38" text-anchor="middle">140</text>
<text x="1563.7" y="613.2" font-size="38" text-anchor="middle">160</text>
<path d="M913.05,487.1h9.6M913.05,401.4h9.6M913.05,315.7h9.6M913.05,230.0h9.6M913.05,144.3h9.6M994.4,574.1v-10.2M1075.7,574.1v-10.2M1157.0,574.1v-10.2M1238.3,574.1v-10.2M1319.7,574.1v-10.2M1401.0,574.1v-10.2M1482.3,574.1v-10.2" stroke="#000" stroke-width="4.8" fill="none"/>
<path d="M913.05,530.0h4.9M913.05,444.3h4.9M913.05,358.6h4.9M913.05,272.9h4.9M913.05,187.2h4.9M913.05,101.5h4.9M953.7,574.1v-5.4M1035.0,574.1v-5.4M1116.4,574.1v-5.4M1197.7,574.1v-5.4M1279.0,574.1v-5.4M1360.3,574.1v-5.4M1441.7,574.1v-5.4M1523.0,574.1v-5.4" stroke="#000" stroke-width="4.8" fill="none"/>
<text x="1230.6" y="658.4" font-size="45" text-anchor="middle"><tspan font-style="italic">h</tspan> (nm)</text>
<text x="850.3" y="317.2" font-size="41" text-anchor="middle" transform="rotate(-90 850.3 317.2)" textLength="110.5" lengthAdjust="spacingAndGlyphs"><tspan font-style="italic">P</tspan> (µN)</text>
<clipPath id="cb"><rect x="913.05" y="58.6" width="650.6000000000001" height="515.5"/></clipPath><g clip-path="url(#cb)">
<path d="M951.3,572.8 C953.2,569.2 958.2,560.5 962.7,551.4 C967.1,542.2 973.0,528.5 978.1,518.0 C983.2,507.4 988.9,496.0 993.2,488.0 C997.4,480.0 998.8,478.0 1003.7,470.0 C1008.7,462.0 1014.1,455.2 1022.8,440.0 C1031.6,424.7 1045.5,398.3 1056.2,378.3 C1066.8,358.3 1078.2,337.3 1086.7,320.0 C1095.2,302.7 1101.7,287.1 1107.0,274.6 C1112.3,262.0 1115.4,251.6 1118.4,244.6 C1121.4,237.6 1122.5,235.1 1124.9,232.6 C1127.3,230.0 1131.3,229.7 1132.6,229.1 L1194.8,229.1 M1194.8,229.1 C1194.4,232.9 1193.7,239.3 1192.4,251.4 C1191.1,263.6 1189.0,285.1 1187.1,302.0 C1185.2,318.8 1183.3,335.6 1181.0,352.6 C1178.7,369.5 1175.7,389.4 1173.3,404.0 C1170.9,418.5 1168.3,432.0 1166.8,440.0 C1165.2,448.0 1165.7,444.4 1163.9,452.0 C1162.2,459.5 1158.7,475.5 1156.2,485.4 C1153.7,495.2 1151.8,502.2 1148.9,511.1 C1146.0,520.0 1141.9,531.8 1138.7,538.5 C1135.5,545.2 1131.3,549.2 1129.8,551.4" fill="none" stroke="#000" stroke-width="4.7" stroke-linejoin="round" stroke-linecap="round"/>
<path d="M978.1,572.8 C980.6,571.5 988.1,567.7 993.2,565.1 C998.2,562.5 1004.7,560.1 1008.6,557.4 C1012.5,554.7 1012.9,552.4 1016.3,548.8 C1019.7,545.2 1022.6,542.2 1028.9,535.9 C1035.3,529.7 1046.0,518.7 1054.6,511.1 C1063.1,503.5 1071.7,497.4 1080.2,490.5 C1088.6,483.7 1095.5,478.4 1105.4,470.0 C1115.3,461.5 1126.5,451.0 1139.5,440.0 C1152.6,429.0 1170.2,416.0 1183.5,404.0 C1196.7,392.0 1208.2,379.8 1219.2,368.0 C1230.3,356.1 1239.6,344.3 1249.7,332.8 C1259.9,321.4 1270.5,310.4 1280.2,299.4 C1290.0,288.4 1300.2,276.0 1308.3,266.9 C1316.4,257.7 1323.1,249.4 1328.6,244.6 C1334.2,239.7 1336.5,239.7 1341.6,237.7 C1346.7,235.7 1352.8,233.6 1359.1,232.6 C1365.4,231.5 1369.1,231.7 1379.4,231.3 C1389.8,230.9 1414.4,230.2 1421.3,230.0 L1508.8,230.0 M1508.8,230.0 C1508.3,233.9 1507.9,239.7 1505.9,253.1 C1503.9,266.6 1500.4,290.4 1497.0,310.6 C1493.6,330.7 1490.3,352.8 1485.6,374.0 C1480.8,395.1 1474.3,418.1 1468.5,437.4 C1462.7,456.7 1456.3,474.8 1451.0,489.7 C1445.7,504.5 1440.6,517.5 1436.8,526.5 C1432.9,535.5 1429.3,540.8 1427.8,543.7" fill="none" stroke="#ff7f0e" stroke-width="4.7" stroke-linejoin="round" stroke-linecap="round"/>
<path d="M970.0,572.8 C972.6,570.9 980.7,565.7 985.8,561.7 C991.0,557.7 995.8,554.4 1000.9,548.8 C1006.0,543.2 1010.4,535.8 1016.3,528.2 C1022.3,520.7 1030.3,510.5 1036.7,503.4 C1043.0,496.2 1047.3,491.8 1054.6,485.4 C1061.8,479.0 1071.6,472.4 1080.2,464.8 C1088.8,457.2 1097.0,449.0 1106.2,440.0 C1115.3,431.0 1123.5,423.7 1135.1,410.8 C1146.7,398.0 1163.4,378.4 1175.7,362.8 C1188.1,347.3 1199.3,331.8 1209.1,317.4 C1218.8,303.0 1226.6,288.6 1234.3,276.3 C1241.9,264.0 1250.3,251.0 1255.0,243.7 C1259.7,236.4 1259.4,235.4 1262.3,232.6 C1265.3,229.7 1268.2,227.9 1272.5,226.6 C1276.8,225.3 1285.4,225.1 1288.0,224.9 L1338.8,224.9 M1338.8,224.9 C1338.4,229.3 1337.6,238.6 1336.3,251.4 C1335.1,264.3 1333.4,285.1 1331.5,302.0 C1329.6,318.8 1327.5,335.6 1325.0,352.6 C1322.4,369.5 1318.7,389.5 1316.0,404.0 C1313.3,418.4 1311.5,425.3 1308.7,439.1 C1305.8,453.0 1302.0,474.2 1298.9,487.1 C1295.9,500.0 1293.0,508.7 1290.4,516.2 C1287.8,523.8 1285.6,528.0 1283.1,532.5 C1280.6,537.1 1276.6,541.8 1275.4,543.7" fill="none" stroke="#0000ff" stroke-width="4.7" stroke-linejoin="round" stroke-linecap="round"/>
</g>
<path fill-rule="evenodd" d="M910.2,56H1566.3V576.9H910.2ZM915.9,61.2V571.3H1561V61.2Z"/>
<path d="M934,91.1H1011" stroke="#000" stroke-width="4.4" stroke-linecap="round"/>
<path d="M934,141.4H1011" stroke="#0000ff" stroke-width="4.4" stroke-linecap="round"/>
<path d="M934,182.4H1011" stroke="#ff7f0e" stroke-width="4.4" stroke-linecap="round"/>
<text x="1018.2" y="102.6" font-size="31" textLength="187.5" lengthAdjust="spacingAndGlyphs">PM6:PC<tspan dy="7.5" font-size="0.68em">71</tspan><tspan dy="-7.5">BM</tspan></text>
<text x="1018.2" y="152.3" font-size="31" textLength="111.6" lengthAdjust="spacingAndGlyphs">PM6:Y6</text>
<text x="1018.2" y="193.1" font-size="31" textLength="187.3" lengthAdjust="spacingAndGlyphs">PM6:PRi-C39</text>
<rect x="47" y="779" width="483" height="403" fill="#fdfdfd"/><rect x="1165" y="778" width="479" height="404" fill="#fdfdfd"/>
<text x="8.0" y="800.5" font-size="68">c</text>
<rect x="86.4" y="800" width="363.9" height="35" fill="url(#c0)"/>
<rect x="86.4" y="800" width="363.9" height="35" fill="url(#c1)" mask="url(#vf)"/>
<rect x="86.4" y="835" width="363.9" height="34" fill="url(#c1)"/>
<rect x="86.4" y="835" width="363.9" height="34" fill="url(#c2)" mask="url(#vf)"/>
<rect x="86.4" y="869" width="363.9" height="34" fill="url(#c2)"/>
<rect x="86.4" y="869" width="363.9" height="34" fill="url(#c3)" mask="url(#vf)"/>
<rect x="86.4" y="903" width="363.9" height="34" fill="url(#c3)"/>
<rect x="86.4" y="903" width="363.9" height="34" fill="url(#c4)" mask="url(#vf)"/>
<rect x="86.4" y="937" width="363.9" height="35" fill="url(#c4)"/>
<rect x="86.4" y="937" width="363.9" height="35" fill="url(#c5)" mask="url(#vf)"/>
<rect x="86.4" y="972" width="363.9" height="34" fill="url(#c5)"/>
<rect x="86.4" y="972" width="363.9" height="34" fill="url(#c6)" mask="url(#vf)"/>
<rect x="86.4" y="1006" width="363.9" height="34" fill="url(#c6)"/>
<rect x="86.4" y="1006" width="363.9" height="34" fill="url(#c7)" mask="url(#vf)"/>
<rect x="86.4" y="1040" width="363.9" height="35" fill="url(#c7)"/>
<rect x="86.4" y="1040" width="363.9" height="35" fill="url(#c8)" mask="url(#vf)"/>
<rect x="86.4" y="1075" width="363.9" height="34" fill="url(#c8)"/>
<rect x="86.4" y="1075" width="363.9" height="34" fill="url(#c9)" mask="url(#vf)"/>
<rect x="86.4" y="1109" width="363.9" height="34" fill="url(#c9)"/>
<rect x="86.4" y="1109" width="363.9" height="34" fill="url(#c10)" mask="url(#vf)"/>
<rect x="86.4" y="800.3" width="363.9" height="342.8" fill="none" stroke="#3a3a3a" stroke-width="1.6"/>
<text x="86.4" y="1164.4" font-size="12.4" text-anchor="middle" font-weight="normal" class="s" fill="#111">0</text>
<text x="77.8" y="1147.5" font-size="12.4" text-anchor="end" font-weight="normal" class="s" fill="#111">0</text>
<text x="159.2" y="1164.4" font-size="12.4" text-anchor="middle" font-weight="normal" class="s" fill="#111">1</text>
<text x="77.8" y="1078.9" font-size="12.4" text-anchor="end" font-weight="normal" class="s" fill="#111">1</text>
<text x="232.0" y="1164.4" font-size="12.4" text-anchor="middle" font-weight="normal" class="s" fill="#111">2</text>
<text x="77.8" y="1010.4" font-size="12.4" text-anchor="end" font-weight="normal" class="s" fill="#111">2</text>
<text x="304.7" y="1164.4" font-size="12.4" text-anchor="middle" font-weight="normal" class="s" fill="#111">3</text>
<text x="77.8" y="941.8" font-size="12.4" text-anchor="end" font-weight="normal" class="s" fill="#111">3</text>
<text x="377.5" y="1164.4" font-size="12.4" text-anchor="middle" font-weight="normal" class="s" fill="#111">4</text>
<text x="77.8" y="873.3" font-size="12.4" text-anchor="end" font-weight="normal" class="s" fill="#111">4</text>
<text x="450.3" y="1164.4" font-size="12.4" text-anchor="middle" font-weight="normal" class="s" fill="#111">5</text>
<text x="77.8" y="804.7" font-size="12.4" text-anchor="end" font-weight="normal" class="s" fill="#111">5</text>
<path d="M86.4,1143.1v5M86.4,1143.1h-5M159.2,1143.1v5M86.4,1074.5h-5M232.0,1143.1v5M86.4,1006.0h-5M304.7,1143.1v5M86.4,937.4h-5M377.5,1143.1v5M86.4,868.9h-5M450.3,1143.1v5M86.4,800.3h-5M122.8,1143.1v2.6M86.4,1108.8h-2.6M195.6,1143.1v2.6M86.4,1040.3h-2.6M268.4,1143.1v2.6M86.4,971.7h-2.6M341.1,1143.1v2.6M86.4,903.1h-2.6M413.9,1143.1v2.6M86.4,834.6h-2.6" stroke="#333" stroke-width="1.3" fill="none"/>
<text x="268.0" y="1170.0" font-size="14.5" text-anchor="middle" font-weight="normal" class="s" fill="#111">X (µm)</text>
<text x="71.0" y="971.0" font-size="16" text-anchor="middle" font-weight="normal" class="s" transform="rotate(-90 71.0 971.0)" fill="#222">Y (µm)</text>
<text x="101.8" y="835.3" font-size="26" textLength="158.0" lengthAdjust="spacingAndGlyphs">PM6:PC<tspan dy="7.5" font-size="0.68em">71</tspan><tspan dy="-7.5">BM</tspan></text>
<text x="101.8" y="867.0" font-size="26" textLength="326.0" lengthAdjust="spacingAndGlyphs">Average modulus: 13.43 GPa</text>
<rect x="466" y="825" width="23.8" height="6.2" fill="#8c8c8c"/>
<rect x="466" y="831.2" width="23.8" height="303.8" fill="url(#cbar)"/>
<rect x="466" y="1135" width="23.8" height="5.4" fill="#000"/>
<text x="498.8" y="834.6" font-size="9.5" font-weight="normal" class="s" fill="#222">20.00</text>
<text x="498.8" y="872.6" font-size="9.5" font-weight="normal" class="s" fill="#222">17.50</text>
<text x="498.8" y="910.6" font-size="9.5" font-weight="normal" class="s" fill="#222">15.00</text>
<text x="498.8" y="948.5" font-size="9.5" font-weight="normal" class="s" fill="#222">12.50</text>
<text x="498.8" y="986.5" font-size="9.5" font-weight="normal" class="s" fill="#222">10.00</text>
<text x="498.8" y="1024.5" font-size="9.5" font-weight="normal" class="s" fill="#222">7.500</text>
<text x="498.8" y="1062.5" font-size="9.5" font-weight="normal" class="s" fill="#222">5.000</text>
<text x="498.8" y="1100.4" font-size="9.5" font-weight="normal" class="s" fill="#222">2.500</text>
<text x="498.8" y="1138.4" font-size="9.5" font-weight="normal" class="s" fill="#222">0.000</text>
<path d="M489.8,831.2h4M489.8,869.2h4M489.8,907.2h4M489.8,945.1h4M489.8,983.1h4M489.8,1021.1h4M489.8,1059.0h4M489.8,1097.0h4M489.8,1135.0h4" stroke="#333" stroke-width="1" fill="none"/>
<text x="488.4" y="796.1" font-size="15" text-anchor="middle" font-weight="normal" class="s" fill="#222">Modulus</text>
<text x="488.4" y="816.5" font-size="15" text-anchor="middle" font-weight="normal" class="s" fill="#222">(GPa)</text>
<text x="578.5" y="800.4" font-size="61">d</text>
<rect x="653.7" y="804" width="356.7" height="34" fill="url(#d0)"/>
<rect x="653.7" y="804" width="356.7" height="34" fill="url(#d1)" mask="url(#vf)"/>
<rect x="653.7" y="838" width="356.7" height="33" fill="url(#d1)"/>
<rect x="653.7" y="838" width="356.7" height="33" fill="url(#d2)" mask="url(#vf)"/>
<rect x="653.7" y="871" width="356.7" height="34" fill="url(#d2)"/>
<rect x="653.7" y="871" width="356.7" height="34" fill="url(#d3)" mask="url(#vf)"/>
<rect x="653.7" y="905" width="356.7" height="34" fill="url(#d3)"/>
<rect x="653.7" y="905" width="356.7" height="34" fill="url(#d4)" mask="url(#vf)"/>
<rect x="653.7" y="939" width="356.7" height="33" fill="url(#d4)"/>
<rect x="653.7" y="939" width="356.7" height="33" fill="url(#d5)" mask="url(#vf)"/>
<rect x="653.7" y="972" width="356.7" height="34" fill="url(#d5)"/>
<rect x="653.7" y="972" width="356.7" height="34" fill="url(#d6)" mask="url(#vf)"/>
<rect x="653.7" y="1006" width="356.7" height="34" fill="url(#d6)"/>
<rect x="653.7" y="1006" width="356.7" height="34" fill="url(#d7)" mask="url(#vf)"/>
<rect x="653.7" y="1040" width="356.7" height="34" fill="url(#d7)"/>
<rect x="653.7" y="1040" width="356.7" height="34" fill="url(#d8)" mask="url(#vf)"/>
<rect x="653.7" y="1074" width="356.7" height="33" fill="url(#d8)"/>
<rect x="653.7" y="1074" width="356.7" height="33" fill="url(#d9)" mask="url(#vf)"/>
<rect x="653.7" y="1107" width="356.7" height="34" fill="url(#d9)"/>
<rect x="653.7" y="1107" width="356.7" height="34" fill="url(#d10)" mask="url(#vf)"/>
<rect x="653.7" y="804.1" width="356.7" height="336.8" fill="none" stroke="#3a3a3a" stroke-width="1.6"/>
<text x="653.7" y="1162.2" font-size="12.4" text-anchor="middle" font-weight="normal" class="s" fill="#111">0</text>
<text x="645.1" y="1145.3" font-size="12.4" text-anchor="end" font-weight="normal" class="s" fill="#111">0</text>
<text x="725.0" y="1162.2" font-size="12.4" text-anchor="middle" font-weight="normal" class="s" fill="#111">1</text>
<text x="645.1" y="1077.9" font-size="12.4" text-anchor="end" font-weight="normal" class="s" fill="#111">1</text>
<text x="796.4" y="1162.2" font-size="12.4" text-anchor="middle" font-weight="normal" class="s" fill="#111">2</text>
<text x="645.1" y="1010.6" font-size="12.4" text-anchor="end" font-weight="normal" class="s" fill="#111">2</text>
<text x="867.7" y="1162.2" font-size="12.4" text-anchor="middle" font-weight="normal" class="s" fill="#111">3</text>
<text x="645.1" y="943.2" font-size="12.4" text-anchor="end" font-weight="normal" class="s" fill="#111">3</text>
<text x="939.1" y="1162.2" font-size="12.4" text-anchor="middle" font-weight="normal" class="s" fill="#111">4</text>
<text x="645.1" y="875.9" font-size="12.4" text-anchor="end" font-weight="normal" class="s" fill="#111">4</text>
<text x="1010.4" y="1162.2" font-size="12.4" text-anchor="middle" font-weight="normal" class="s" fill="#111">5</text>
<text x="645.1" y="808.5" font-size="12.4" text-anchor="end" font-weight="normal" class="s" fill="#111">5</text>
<path d="M653.7,1140.9v5M653.7,1140.9h-5M725.0,1140.9v5M653.7,1073.5h-5M796.4,1140.9v5M653.7,1006.2h-5M867.7,1140.9v5M653.7,938.8h-5M939.1,1140.9v5M653.7,871.5h-5M1010.4,1140.9v5M653.7,804.1h-5M689.4,1140.9v2.6M653.7,1107.2h-2.6M760.7,1140.9v2.6M653.7,1039.9h-2.6M832.0,1140.9v2.6M653.7,972.5h-2.6M903.4,1140.9v2.6M653.7,905.1h-2.6M974.7,1140.9v2.6M653.7,837.8h-2.6" stroke="#333" stroke-width="1.3" fill="none"/>
<text x="832.0" y="1178.5" font-size="14.5" text-anchor="middle" font-weight="normal" class="s" fill="#111">X (µm)</text>
<text x="632.0" y="972.0" font-size="16" text-anchor="middle" font-weight="normal" class="s" transform="rotate(-90 632.0 972.0)" fill="#222">Y (µm)</text>
<text x="672.0" y="837.5" font-size="26" textLength="94.4" lengthAdjust="spacingAndGlyphs">PM6:Y6</text>
<text x="672.0" y="870.0" font-size="26" textLength="313.0" lengthAdjust="spacingAndGlyphs">Average modulus: 6.59 GPa</text>
<rect x="1025.5" y="829" width="22.5" height="6.0" fill="#8c8c8c"/>
<rect x="1025.5" y="835" width="22.5" height="298.0" fill="url(#cbar)"/>
<rect x="1025.5" y="1133" width="22.5" height="5.6" fill="#000"/>
<text x="1057.0" y="838.4" font-size="9.5" font-weight="normal" class="s" fill="#222">20.00</text>
<text x="1057.0" y="875.6" font-size="9.5" font-weight="normal" class="s" fill="#222">17.50</text>
<text x="1057.0" y="912.9" font-size="9.5" font-weight="normal" class="s" fill="#222">15.00</text>
<text x="1057.0" y="950.1" font-size="9.5" font-weight="normal" class="s" fill="#222">12.50</text>
<text x="1057.0" y="987.4" font-size="9.5" font-weight="normal" class="s" fill="#222">10.00</text>
<text x="1057.0" y="1024.7" font-size="9.5" font-weight="normal" class="s" fill="#222">7.500</text>
<text x="1057.0" y="1061.9" font-size="9.5" font-weight="normal" class="s" fill="#222">5.000</text>
<text x="1057.0" y="1099.2" font-size="9.5" font-weight="normal" class="s" fill="#222">2.500</text>
<text x="1057.0" y="1136.4" font-size="9.5" font-weight="normal" class="s" fill="#222">0.000</text>
<path d="M1048,835.0h4M1048,872.2h4M1048,909.5h4M1048,946.8h4M1048,984.0h4M1048,1021.2h4M1048,1058.5h4M1048,1095.8h4M1048,1133.0h4" stroke="#333" stroke-width="1" fill="none"/>
<text x="1047.2" y="799.2" font-size="15" text-anchor="middle" font-weight="normal" class="s" fill="#222">Modulus</text>
<text x="1047.2" y="818.8" font-size="15" text-anchor="middle" font-weight="normal" class="s" fill="#222">(GPa)</text>
<text x="1137.5" y="799.6" font-size="63">e</text>
<rect x="1205.0" y="800" width="361.8" height="35" fill="url(#e0)"/>
<rect x="1205.0" y="800" width="361.8" height="35" fill="url(#e1)" mask="url(#vf)"/>
<rect x="1205.0" y="835" width="361.8" height="35" fill="url(#e1)"/>
<rect x="1205.0" y="835" width="361.8" height="35" fill="url(#e2)" mask="url(#vf)"/>
<rect x="1205.0" y="870" width="361.8" height="35" fill="url(#e2)"/>
<rect x="1205.0" y="870" width="361.8" height="35" fill="url(#e3)" mask="url(#vf)"/>
<rect x="1205.0" y="905" width="361.8" height="34" fill="url(#e3)"/>
<rect x="1205.0" y="905" width="361.8" height="34" fill="url(#e4)" mask="url(#vf)"/>
<rect x="1205.0" y="939" width="361.8" height="35" fill="url(#e4)"/>
<rect x="1205.0" y="939" width="361.8" height="35" fill="url(#e5)" mask="url(#vf)"/>
<rect x="1205.0" y="974" width="361.8" height="35" fill="url(#e5)"/>
<rect x="1205.0" y="974" width="361.8" height="35" fill="url(#e6)" mask="url(#vf)"/>
<rect x="1205.0" y="1009" width="361.8" height="35" fill="url(#e6)"/>
<rect x="1205.0" y="1009" width="361.8" height="35" fill="url(#e7)" mask="url(#vf)"/>
<rect x="1205.0" y="1044" width="361.8" height="34" fill="url(#e7)"/>
<rect x="1205.0" y="1044" width="361.8" height="34" fill="url(#e8)" mask="url(#vf)"/>
<rect x="1205.0" y="1078" width="361.8" height="35" fill="url(#e8)"/>
<rect x="1205.0" y="1078" width="361.8" height="35" fill="url(#e9)" mask="url(#vf)"/>
<rect x="1205.0" y="1113" width="361.8" height="35" fill="url(#e9)"/>
<rect x="1205.0" y="1113" width="361.8" height="35" fill="url(#e10)" mask="url(#vf)"/>
<rect x="1205.0" y="800.3" width="361.8" height="347.5" fill="none" stroke="#3a3a3a" stroke-width="1.6"/>
<text x="1205.0" y="1169.1" font-size="12.4" text-anchor="middle" font-weight="normal" class="s" fill="#111">0</text>
<text x="1196.4" y="1152.2" font-size="12.4" text-anchor="end" font-weight="normal" class="s" fill="#111">0</text>
<text x="1277.4" y="1169.1" font-size="12.4" text-anchor="middle" font-weight="normal" class="s" fill="#111">1</text>
<text x="1196.4" y="1082.7" font-size="12.4" text-anchor="end" font-weight="normal" class="s" fill="#111">1</text>
<text x="1349.7" y="1169.1" font-size="12.4" text-anchor="middle" font-weight="normal" class="s" fill="#111">2</text>
<text x="1196.4" y="1013.2" font-size="12.4" text-anchor="end" font-weight="normal" class="s" fill="#111">2</text>
<text x="1422.1" y="1169.1" font-size="12.4" text-anchor="middle" font-weight="normal" class="s" fill="#111">3</text>
<text x="1196.4" y="943.7" font-size="12.4" text-anchor="end" font-weight="normal" class="s" fill="#111">3</text>
<text x="1494.4" y="1169.1" font-size="12.4" text-anchor="middle" font-weight="normal" class="s" fill="#111">4</text>
<text x="1196.4" y="874.2" font-size="12.4" text-anchor="end" font-weight="normal" class="s" fill="#111">4</text>
<text x="1566.8" y="1169.1" font-size="12.4" text-anchor="middle" font-weight="normal" class="s" fill="#111">5</text>
<text x="1196.4" y="804.7" font-size="12.4" text-anchor="end" font-weight="normal" class="s" fill="#111">5</text>
<path d="M1205.0,1147.8v5M1205.0,1147.8h-5M1277.4,1147.8v5M1205.0,1078.3h-5M1349.7,1147.8v5M1205.0,1008.8h-5M1422.1,1147.8v5M1205.0,939.3h-5M1494.4,1147.8v5M1205.0,869.8h-5M1566.8,1147.8v5M1205.0,800.3h-5M1241.2,1147.8v2.6M1205.0,1113.0h-2.6M1313.5,1147.8v2.6M1205.0,1043.5h-2.6M1385.9,1147.8v2.6M1205.0,974.0h-2.6M1458.3,1147.8v2.6M1205.0,904.5h-2.6M1530.6,1147.8v2.6M1205.0,835.0h-2.6" stroke="#333" stroke-width="1.3" fill="none"/>
<text x="1386.0" y="1178.0" font-size="14.5" text-anchor="middle" font-weight="normal" class="s" fill="#111">X (µm)</text>
<text x="1190.0" y="973.0" font-size="16" text-anchor="middle" font-weight="normal" class="s" transform="rotate(-90 1190.0 973.0)" fill="#222">Y (µm)</text>
<text x="1226.0" y="832.6" font-size="26" textLength="159.0" lengthAdjust="spacingAndGlyphs">PM6:PRi-C39</text>
<text x="1226.0" y="865.0" font-size="26" textLength="312.0" lengthAdjust="spacingAndGlyphs">Average modulus: 3.51 GPa</text>
<rect x="1582.5" y="825.5" width="23.5" height="6.0" fill="#8c8c8c"/>
<rect x="1582.5" y="831.5" width="23.5" height="307.5" fill="url(#cbar)"/>
<rect x="1582.5" y="1139" width="23.5" height="6.5" fill="#000"/>
<text x="1615.0" y="834.9" font-size="9.5" font-weight="normal" class="s" fill="#222">20.00</text>
<text x="1615.0" y="873.3" font-size="9.5" font-weight="normal" class="s" fill="#222">17.50</text>
<text x="1615.0" y="911.8" font-size="9.5" font-weight="normal" class="s" fill="#222">15.00</text>
<text x="1615.0" y="950.2" font-size="9.5" font-weight="normal" class="s" fill="#222">12.50</text>
<text x="1615.0" y="988.6" font-size="9.5" font-weight="normal" class="s" fill="#222">10.00</text>
<text x="1615.0" y="1027.1" font-size="9.5" font-weight="normal" class="s" fill="#222">7.500</text>
<text x="1615.0" y="1065.5" font-size="9.5" font-weight="normal" class="s" fill="#222">5.000</text>
<text x="1615.0" y="1104.0" font-size="9.5" font-weight="normal" class="s" fill="#222">2.500</text>
<text x="1615.0" y="1142.4" font-size="9.5" font-weight="normal" class="s" fill="#222">0.000</text>
<path d="M1606,831.5h4M1606,869.9h4M1606,908.4h4M1606,946.8h4M1606,985.2h4M1606,1023.7h4M1606,1062.1h4M1606,1100.6h4M1606,1139.0h4" stroke="#333" stroke-width="1" fill="none"/>
<text x="1604.8" y="794.1" font-size="15" text-anchor="middle" font-weight="normal" class="s" fill="#222">Modulus</text>
<text x="1604.8" y="814.9" font-size="15" text-anchor="middle" font-weight="normal" class="s" fill="#222">(GPa)</text>
<text x="0.0" y="1340.7" font-size="69">f</text>
<rect x="74.7" y="1337" width="392.5" height="36" fill="url(#f0)"/>
<rect x="74.7" y="1337" width="392.5" height="36" fill="url(#f1)" mask="url(#vf)"/>
<rect x="74.7" y="1373" width="392.5" height="36" fill="url(#f1)"/>
<rect x="74.7" y="1373" width="392.5" height="36" fill="url(#f2)" mask="url(#vf)"/>
<rect x="74.7" y="1409" width="392.5" height="35" fill="url(#f2)"/>
<rect x="74.7" y="1409" width="392.5" height="35" fill="url(#f3)" mask="url(#vf)"/>
<rect x="74.7" y="1444" width="392.5" height="36" fill="url(#f3)"/>
<rect x="74.7" y="1444" width="392.5" height="36" fill="url(#f4)" mask="url(#vf)"/>
<rect x="74.7" y="1480" width="392.5" height="36" fill="url(#f4)"/>
<rect x="74.7" y="1480" width="392.5" height="36" fill="url(#f5)" mask="url(#vf)"/>
<rect x="74.7" y="1516" width="392.5" height="35" fill="url(#f5)"/>
<rect x="74.7" y="1516" width="392.5" height="35" fill="url(#f6)" mask="url(#vf)"/>
<rect x="74.7" y="1551" width="392.5" height="36" fill="url(#f6)"/>
<rect x="74.7" y="1551" width="392.5" height="36" fill="url(#f7)" mask="url(#vf)"/>
<rect x="74.7" y="1587" width="392.5" height="35" fill="url(#f7)"/>
<rect x="74.7" y="1587" width="392.5" height="35" fill="url(#f8)" mask="url(#vf)"/>
<rect x="74.7" y="1622" width="392.5" height="36" fill="url(#f8)"/>
<rect x="74.7" y="1622" width="392.5" height="36" fill="url(#f9)" mask="url(#vf)"/>
<rect x="74.7" y="1658" width="392.5" height="36" fill="url(#f9)"/>
<rect x="74.7" y="1658" width="392.5" height="36" fill="url(#f10)" mask="url(#vf)"/>
<rect x="74.7" y="1337.4" width="392.5" height="356.3" fill="none" stroke="#3a3a3a" stroke-width="1.6"/>
<text x="74.7" y="1715.5" font-size="13.2" text-anchor="middle" font-weight="normal" class="s" fill="#111">0</text>
<text x="66.1" y="1698.4" font-size="13.2" text-anchor="end" font-weight="normal" class="s" fill="#111">0</text>
<text x="153.2" y="1715.5" font-size="13.2" text-anchor="middle" font-weight="normal" class="s" fill="#111">1</text>
<text x="66.1" y="1627.1" font-size="13.2" text-anchor="end" font-weight="normal" class="s" fill="#111">1</text>
<text x="231.7" y="1715.5" font-size="13.2" text-anchor="middle" font-weight="normal" class="s" fill="#111">2</text>
<text x="66.1" y="1555.9" font-size="13.2" text-anchor="end" font-weight="normal" class="s" fill="#111">2</text>
<text x="310.2" y="1715.5" font-size="13.2" text-anchor="middle" font-weight="normal" class="s" fill="#111">3</text>
<text x="66.1" y="1484.6" font-size="13.2" text-anchor="end" font-weight="normal" class="s" fill="#111">3</text>
<text x="388.7" y="1715.5" font-size="13.2" text-anchor="middle" font-weight="normal" class="s" fill="#111">4</text>
<text x="66.1" y="1413.4" font-size="13.2" text-anchor="end" font-weight="normal" class="s" fill="#111">4</text>
<text x="467.2" y="1715.5" font-size="13.2" text-anchor="middle" font-weight="normal" class="s" fill="#111">5</text>
<text x="66.1" y="1342.1" font-size="13.2" text-anchor="end" font-weight="normal" class="s" fill="#111">5</text>
<path d="M74.7,1693.7v5M74.7,1693.7h-5M153.2,1693.7v5M74.7,1622.4h-5M231.7,1693.7v5M74.7,1551.2h-5M310.2,1693.7v5M74.7,1479.9h-5M388.7,1693.7v5M74.7,1408.7h-5M467.2,1693.7v5M74.7,1337.4h-5M114.0,1693.7v2.6M74.7,1658.1h-2.6M192.4,1693.7v2.6M74.7,1586.8h-2.6M270.9,1693.7v2.6M74.7,1515.6h-2.6M349.4,1693.7v2.6M74.7,1444.3h-2.6M427.9,1693.7v2.6M74.7,1373.0h-2.6" stroke="#333" stroke-width="1.3" fill="none"/>
<text x="269.0" y="1731.5" font-size="15.8" text-anchor="middle" font-weight="normal" class="s" fill="#111">X (µm)</text>
<text x="50.0" y="1515.0" font-size="17" text-anchor="middle" font-weight="normal" class="s" transform="rotate(-90 50.0 1515.0)" fill="#222">Y (µm)</text>
<text x="93.6" y="1377.0" font-size="27" textLength="168.2" lengthAdjust="spacingAndGlyphs">PM6:PC<tspan dy="7.5" font-size="0.68em">71</tspan><tspan dy="-7.5">BM</tspan></text>
<text x="93.6" y="1410.6" font-size="27" textLength="338.2" lengthAdjust="spacingAndGlyphs">Average hardness: 0.86 GPa</text>
<rect x="484" y="1364" width="25.5" height="6.7" fill="#8c8c8c"/>
<rect x="484" y="1370.7" width="25.5" height="313.8" fill="url(#cbar)"/>
<rect x="484" y="1684.5" width="25.5" height="7.0" fill="#000"/>
<text x="519.3" y="1375.0" font-size="10.1" font-weight="normal" class="s" fill="#222">1.100</text>
<text x="519.3" y="1414.2" font-size="10.1" font-weight="normal" class="s" fill="#222">0.9625</text>
<text x="519.3" y="1453.5" font-size="10.1" font-weight="normal" class="s" fill="#222">0.8250</text>
<text x="519.3" y="1492.7" font-size="10.1" font-weight="normal" class="s" fill="#222">0.6875</text>
<text x="519.3" y="1531.9" font-size="10.1" font-weight="normal" class="s" fill="#222">0.5500</text>
<text x="519.3" y="1571.1" font-size="10.1" font-weight="normal" class="s" fill="#222">0.4125</text>
<text x="519.3" y="1610.3" font-size="10.1" font-weight="normal" class="s" fill="#222">0.2750</text>
<text x="519.3" y="1649.6" font-size="10.1" font-weight="normal" class="s" fill="#222">0.1375</text>
<text x="519.3" y="1688.8" font-size="10.1" font-weight="normal" class="s" fill="#222">0.000</text>
<path d="M509.5,1370.7h4M509.5,1409.9h4M509.5,1449.2h4M509.5,1488.4h4M509.5,1527.6h4M509.5,1566.8h4M509.5,1606.0h4M509.5,1645.3h4M509.5,1684.5h4" stroke="#333" stroke-width="1" fill="none"/>
<text x="507.8" y="1333.3" font-size="15.6" text-anchor="middle" font-weight="normal" class="s" fill="#222">Hardness</text>
<text x="507.8" y="1353.8" font-size="15.6" text-anchor="middle" font-weight="normal" class="s" fill="#222">(GPa)</text>
<text x="571.0" y="1335.6" font-size="70">g</text>
<rect x="648.7" y="1330" width="374.6" height="36" fill="url(#g0)"/>
<rect x="648.7" y="1330" width="374.6" height="36" fill="url(#g1)" mask="url(#vf)"/>
<rect x="648.7" y="1366" width="374.6" height="35" fill="url(#g1)"/>
<rect x="648.7" y="1366" width="374.6" height="35" fill="url(#g2)" mask="url(#vf)"/>
<rect x="648.7" y="1401" width="374.6" height="36" fill="url(#g2)"/>
<rect x="648.7" y="1401" width="374.6" height="36" fill="url(#g3)" mask="url(#vf)"/>
<rect x="648.7" y="1437" width="374.6" height="35" fill="url(#g3)"/>
<rect x="648.7" y="1437" width="374.6" height="35" fill="url(#g4)" mask="url(#vf)"/>
<rect x="648.7" y="1472" width="374.6" height="36" fill="url(#g4)"/>
<rect x="648.7" y="1472" width="374.6" height="36" fill="url(#g5)" mask="url(#vf)"/>
<rect x="648.7" y="1508" width="374.6" height="35" fill="url(#g5)"/>
<rect x="648.7" y="1508" width="374.6" height="35" fill="url(#g6)" mask="url(#vf)"/>
<rect x="648.7" y="1543" width="374.6" height="36" fill="url(#g6)"/>
<rect x="648.7" y="1543" width="374.6" height="36" fill="url(#g7)" mask="url(#vf)"/>
<rect x="648.7" y="1579" width="374.6" height="35" fill="url(#g7)"/>
<rect x="648.7" y="1579" width="374.6" height="35" fill="url(#g8)" mask="url(#vf)"/>
<rect x="648.7" y="1614" width="374.6" height="36" fill="url(#g8)"/>
<rect x="648.7" y="1614" width="374.6" height="36" fill="url(#g9)" mask="url(#vf)"/>
<rect x="648.7" y="1650" width="374.6" height="35" fill="url(#g9)"/>
<rect x="648.7" y="1650" width="374.6" height="35" fill="url(#g10)" mask="url(#vf)"/>
<rect x="648.7" y="1330.3" width="374.6" height="354.7" fill="none" stroke="#3a3a3a" stroke-width="1.6"/>
<text x="648.7" y="1706.8" font-size="13.2" text-anchor="middle" font-weight="normal" class="s" fill="#111">0</text>
<text x="640.1" y="1689.7" font-size="13.2" text-anchor="end" font-weight="normal" class="s" fill="#111">0</text>
<text x="723.6" y="1706.8" font-size="13.2" text-anchor="middle" font-weight="normal" class="s" fill="#111">1</text>
<text x="640.1" y="1618.8" font-size="13.2" text-anchor="end" font-weight="normal" class="s" fill="#111">1</text>
<text x="798.5" y="1706.8" font-size="13.2" text-anchor="middle" font-weight="normal" class="s" fill="#111">2</text>
<text x="640.1" y="1547.8" font-size="13.2" text-anchor="end" font-weight="normal" class="s" fill="#111">2</text>
<text x="873.5" y="1706.8" font-size="13.2" text-anchor="middle" font-weight="normal" class="s" fill="#111">3</text>
<text x="640.1" y="1476.9" font-size="13.2" text-anchor="end" font-weight="normal" class="s" fill="#111">3</text>
<text x="948.4" y="1706.8" font-size="13.2" text-anchor="middle" font-weight="normal" class="s" fill="#111">4</text>
<text x="640.1" y="1405.9" font-size="13.2" text-anchor="end" font-weight="normal" class="s" fill="#111">4</text>
<text x="1023.3" y="1706.8" font-size="13.2" text-anchor="middle" font-weight="normal" class="s" fill="#111">5</text>
<text x="640.1" y="1335.0" font-size="13.2" text-anchor="end" font-weight="normal" class="s" fill="#111">5</text>
<path d="M648.7,1685.0v5M648.7,1685.0h-5M723.6,1685.0v5M648.7,1614.1h-5M798.5,1685.0v5M648.7,1543.1h-5M873.5,1685.0v5M648.7,1472.2h-5M948.4,1685.0v5M648.7,1401.2h-5M1023.3,1685.0v5M648.7,1330.3h-5M686.2,1685.0v2.6M648.7,1649.5h-2.6M761.1,1685.0v2.6M648.7,1578.6h-2.6M836.0,1685.0v2.6M648.7,1507.7h-2.6M910.9,1685.0v2.6M648.7,1436.7h-2.6M985.8,1685.0v2.6M648.7,1365.8h-2.6" stroke="#333" stroke-width="1.3" fill="none"/>
<text x="835.0" y="1722.0" font-size="15.8" text-anchor="middle" font-weight="normal" class="s" fill="#111">X (µm)</text>
<text x="626.6" y="1508.0" font-size="17" text-anchor="middle" font-weight="normal" class="s" transform="rotate(-90 626.6 1508.0)" fill="#222">Y (µm)</text>
<text x="668.9" y="1367.5" font-size="27" textLength="101.3" lengthAdjust="spacingAndGlyphs">PM6:Y6</text>
<text x="668.9" y="1401.0" font-size="27" textLength="338.2" lengthAdjust="spacingAndGlyphs">Average hardness: 0.35 GPa</text>
<rect x="1040" y="1356.5" width="23.5" height="6.5" fill="#8c8c8c"/>
<rect x="1040" y="1363" width="23.5" height="312.5" fill="url(#cbar)"/>
<rect x="1040" y="1675.5" width="23.5" height="6.5" fill="#000"/>
<text x="1073.3" y="1367.3" font-size="10.1" font-weight="normal" class="s" fill="#222">1.100</text>
<text x="1073.3" y="1406.4" font-size="10.1" font-weight="normal" class="s" fill="#222">0.9625</text>
<text x="1073.3" y="1445.4" font-size="10.1" font-weight="normal" class="s" fill="#222">0.8250</text>
<text x="1073.3" y="1484.5" font-size="10.1" font-weight="normal" class="s" fill="#222">0.6875</text>
<text x="1073.3" y="1523.5" font-size="10.1" font-weight="normal" class="s" fill="#222">0.5500</text>
<text x="1073.3" y="1562.6" font-size="10.1" font-weight="normal" class="s" fill="#222">0.4125</text>
<text x="1073.3" y="1601.7" font-size="10.1" font-weight="normal" class="s" fill="#222">0.2750</text>
<text x="1073.3" y="1640.7" font-size="10.1" font-weight="normal" class="s" fill="#222">0.1375</text>
<text x="1073.3" y="1679.8" font-size="10.1" font-weight="normal" class="s" fill="#222">0.000</text>
<path d="M1063.5,1363.0h4M1063.5,1402.1h4M1063.5,1441.1h4M1063.5,1480.2h4M1063.5,1519.2h4M1063.5,1558.3h4M1063.5,1597.4h4M1063.5,1636.4h4M1063.5,1675.5h4" stroke="#333" stroke-width="1" fill="none"/>
<text x="1062.8" y="1326.0" font-size="15.6" text-anchor="middle" font-weight="normal" class="s" fill="#222">Hardness</text>
<text x="1062.8" y="1347.0" font-size="15.6" text-anchor="middle" font-weight="normal" class="s" fill="#222">(GPa)</text>
<text x="1135.5" y="1337.0" font-size="67">h</text>
<rect x="1213.5" y="1329" width="387.7" height="36" fill="url(#h0)"/>
<rect x="1213.5" y="1329" width="387.7" height="36" fill="url(#h1)" mask="url(#vf)"/>
<rect x="1213.5" y="1365" width="387.7" height="36" fill="url(#h1)"/>
<rect x="1213.5" y="1365" width="387.7" height="36" fill="url(#h2)" mask="url(#vf)"/>
<rect x="1213.5" y="1401" width="387.7" height="36" fill="url(#h2)"/>
<rect x="1213.5" y="1401" width="387.7" height="36" fill="url(#h3)" mask="url(#vf)"/>
<rect x="1213.5" y="1437" width="387.7" height="36" fill="url(#h3)"/>
<rect x="1213.5" y="1437" width="387.7" height="36" fill="url(#h4)" mask="url(#vf)"/>
<rect x="1213.5" y="1473" width="387.7" height="36" fill="url(#h4)"/>
<rect x="1213.5" y="1473" width="387.7" height="36" fill="url(#h5)" mask="url(#vf)"/>
<rect x="1213.5" y="1509" width="387.7" height="36" fill="url(#h5)"/>
<rect x="1213.5" y="1509" width="387.7" height="36" fill="url(#h6)" mask="url(#vf)"/>
<rect x="1213.5" y="1545" width="387.7" height="36" fill="url(#h6)"/>
<rect x="1213.5" y="1545" width="387.7" height="36" fill="url(#h7)" mask="url(#vf)"/>
<rect x="1213.5" y="1581" width="387.7" height="36" fill="url(#h7)"/>
<rect x="1213.5" y="1581" width="387.7" height="36" fill="url(#h8)" mask="url(#vf)"/>
<rect x="1213.5" y="1617" width="387.7" height="35" fill="url(#h8)"/>
<rect x="1213.5" y="1617" width="387.7" height="35" fill="url(#h9)" mask="url(#vf)"/>
<rect x="1213.5" y="1652" width="387.7" height="36" fill="url(#h9)"/>
<rect x="1213.5" y="1652" width="387.7" height="36" fill="url(#h10)" mask="url(#vf)"/>
<rect x="1213.5" y="1329.0" width="387.7" height="359.4" fill="none" stroke="#3a3a3a" stroke-width="1.6"/>
<text x="1213.5" y="1710.2" font-size="13.2" text-anchor="middle" font-weight="normal" class="s" fill="#111">0</text>
<text x="1204.9" y="1693.1" font-size="13.2" text-anchor="end" font-weight="normal" class="s" fill="#111">0</text>
<text x="1291.0" y="1710.2" font-size="13.2" text-anchor="middle" font-weight="normal" class="s" fill="#111">1</text>
<text x="1204.9" y="1621.2" font-size="13.2" text-anchor="end" font-weight="normal" class="s" fill="#111">1</text>
<text x="1368.6" y="1710.2" font-size="13.2" text-anchor="middle" font-weight="normal" class="s" fill="#111">2</text>
<text x="1204.9" y="1549.3" font-size="13.2" text-anchor="end" font-weight="normal" class="s" fill="#111">2</text>
<text x="1446.1" y="1710.2" font-size="13.2" text-anchor="middle" font-weight="normal" class="s" fill="#111">3</text>
<text x="1204.9" y="1477.5" font-size="13.2" text-anchor="end" font-weight="normal" class="s" fill="#111">3</text>
<text x="1523.7" y="1710.2" font-size="13.2" text-anchor="middle" font-weight="normal" class="s" fill="#111">4</text>
<text x="1204.9" y="1405.6" font-size="13.2" text-anchor="end" font-weight="normal" class="s" fill="#111">4</text>
<text x="1601.2" y="1710.2" font-size="13.2" text-anchor="middle" font-weight="normal" class="s" fill="#111">5</text>
<text x="1204.9" y="1333.7" font-size="13.2" text-anchor="end" font-weight="normal" class="s" fill="#111">5</text>
<path d="M1213.5,1688.4v5M1213.5,1688.4h-5M1291.0,1688.4v5M1213.5,1616.5h-5M1368.6,1688.4v5M1213.5,1544.6h-5M1446.1,1688.4v5M1213.5,1472.8h-5M1523.7,1688.4v5M1213.5,1400.9h-5M1601.2,1688.4v5M1213.5,1329.0h-5M1252.3,1688.4v2.6M1213.5,1652.5h-2.6M1329.8,1688.4v2.6M1213.5,1580.6h-2.6M1407.3,1688.4v2.6M1213.5,1508.7h-2.6M1484.9,1688.4v2.6M1213.5,1436.8h-2.6M1562.4,1688.4v2.6M1213.5,1364.9h-2.6" stroke="#333" stroke-width="1.3" fill="none"/>
<text x="1406.0" y="1726.0" font-size="15.8" text-anchor="middle" font-weight="normal" class="s" fill="#111">X (µm)</text>
<text x="1189.0" y="1508.0" font-size="17" text-anchor="middle" font-weight="normal" class="s" transform="rotate(-90 1189.0 1508.0)" fill="#222">Y (µm)</text>
<text x="1228.5" y="1363.2" font-size="27" textLength="171.4" lengthAdjust="spacingAndGlyphs">PM6:PRi-C39</text>
<text x="1228.5" y="1397.8" font-size="27" textLength="339.1" lengthAdjust="spacingAndGlyphs">Average hardness: 0.30 GPa</text>
<rect x="1618.5" y="1355" width="24.5" height="6.5" fill="#8c8c8c"/>
<rect x="1618.5" y="1361.5" width="24.5" height="317.5" fill="url(#cbar)"/>
<rect x="1618.5" y="1679" width="24.5" height="6.5" fill="#000"/>
<text x="1652.8" y="1364.9" font-size="10.1" font-weight="normal" class="s" fill="#222">1.100</text>
<text x="1652.8" y="1404.6" font-size="10.1" font-weight="normal" class="s" fill="#222">0.9625</text>
<text x="1652.8" y="1444.3" font-size="10.1" font-weight="normal" class="s" fill="#222">0.8250</text>
<text x="1652.8" y="1484.0" font-size="10.1" font-weight="normal" class="s" fill="#222">0.6875</text>
<text x="1652.8" y="1523.7" font-size="10.1" font-weight="normal" class="s" fill="#222">0.5500</text>
<text x="1652.8" y="1563.3" font-size="10.1" font-weight="normal" class="s" fill="#222">0.4125</text>
<text x="1652.8" y="1603.0" font-size="10.1" font-weight="normal" class="s" fill="#222">0.2750</text>
<text x="1652.8" y="1642.7" font-size="10.1" font-weight="normal" class="s" fill="#222">0.1375</text>
<text x="1652.8" y="1682.4" font-size="10.1" font-weight="normal" class="s" fill="#222">0.000</text>
<path d="M1643,1361.5h4M1643,1401.2h4M1643,1440.9h4M1643,1480.6h4M1643,1520.2h4M1643,1559.9h4M1643,1599.6h4M1643,1639.3h4M1643,1679.0h4" stroke="#333" stroke-width="1" fill="none"/>
<text x="1641.8" y="1323.6" font-size="15.6" text-anchor="middle" font-weight="normal" class="s" fill="#222">Hardness</text>
<text x="1641.8" y="1344.6" font-size="15.6" text-anchor="middle" font-weight="normal" class="s" fill="#222">(GPa)</text>
<text x="29.0" y="1872.8" font-size="62">i</text>
<rect x="169.2" y="2360.5" width="59.3" height="31.9" fill="url(#ho)" stroke="#ff8800" stroke-width="2.4"/>
<rect x="228.5" y="2195.6" width="59.3" height="196.8" fill="url(#hb)" stroke="#0000ff" stroke-width="2.4"/>
<rect x="287.8" y="2307.3" width="59.3" height="85.1" fill="url(#hr)" stroke="#ff0000" stroke-width="2.4"/>
<rect x="389.8" y="2354.6" width="59.3" height="37.8" fill="url(#ho)" stroke="#ff8800" stroke-width="2.4"/>
<rect x="449.1" y="2004.1" width="59.3" height="388.3" fill="url(#hb)" stroke="#0000ff" stroke-width="2.4"/>
<rect x="508.4" y="2232.8" width="59.3" height="159.6" fill="url(#hr)" stroke="#ff0000" stroke-width="2.4"/>
<rect x="610.0" y="2344.5" width="59.3" height="47.9" fill="url(#ho)" stroke="#ff8800" stroke-width="2.4"/>
<rect x="669.2" y="1919.0" width="59.3" height="473.4" fill="url(#hb)" stroke="#0000ff" stroke-width="2.4"/>
<rect x="728.6" y="2185.0" width="59.3" height="207.4" fill="url(#hr)" stroke="#ff0000" stroke-width="2.4"/>
<path d="M198.8,2359.3V2361.7M193.8,2359.3h10M193.8,2361.7h10M258.1,2183.9V2207.3M253.1,2183.9h10M253.1,2207.3h10M317.4,2299.8V2314.7M312.4,2299.8h10M312.4,2314.7h10M419.4,2353.5V2355.8M414.4,2353.5h10M414.4,2355.8h10M478.7,1988.7V2019.5M473.7,1988.7h10M473.7,2019.5h10M538.0,2213.7V2252.0M533.0,2213.7h10M533.0,2252.0h10M639.6,2343.2V2345.9M634.6,2343.2h10M634.6,2345.9h10M698.9,1912.1V1925.9M693.9,1912.1h10M693.9,1925.9h10M758.2,2178.0V2191.9M753.2,2178.0h10M753.2,2191.9h10" stroke="#000" stroke-width="3.6" fill="none" stroke-linecap="round"/>
<text x="137.2" y="2404.2" font-size="38.5" text-anchor="end">0</text>
<text x="137.2" y="2297.8" font-size="38.5" text-anchor="end">20</text>
<text x="137.2" y="2191.4" font-size="38.5" text-anchor="end">40</text>
<text x="137.2" y="2085.1" font-size="38.5" text-anchor="end">60</text>
<text x="137.2" y="1978.7" font-size="38.5" text-anchor="end">80</text>
<text x="137.2" y="1872.3" font-size="38.5" text-anchor="end">100</text>
<path d="M148.4,2286.0h10.3M148.4,2179.6h10.3M148.4,2073.3h10.3M148.4,1966.9h10.3M148.4,2339.2h4.9M148.4,2232.8h4.9M148.4,2126.4h4.9M148.4,2020.1h4.9M148.4,1913.7h4.9" stroke="#000" stroke-width="4.8" fill="none"/>
<path fill-rule="evenodd" d="M146,1858.1H812V2394.8H146ZM150.8,1862.9V2390H807.2V1862.9Z"/>
<text x="77.7" y="2126.8" font-size="42" text-anchor="middle" transform="rotate(-90 77.7 2126.8)"><tspan font-style="italic">h</tspan> (nm)</text>
<text x="258.6" y="2430.7" font-size="32.5" text-anchor="middle" textLength="194.8" lengthAdjust="spacingAndGlyphs">PM6:PC<tspan dy="7.5" font-size="0.68em">71</tspan><tspan dy="-7.5">BM</tspan></text>
<text x="478.6" y="2430.7" font-size="32.5" text-anchor="middle" textLength="116.8" lengthAdjust="spacingAndGlyphs">PM6:Y6</text>
<text x="698.5" y="2430.7" font-size="32.5" text-anchor="middle" textLength="196.5" lengthAdjust="spacingAndGlyphs">PM6:PRi-C39</text>
<rect x="187.9" y="1889.0" width="69.6" height="42.5" fill="url(#ho)" stroke="#ff8800" stroke-width="2.4"/>
<text x="277.0" y="1923.6" font-size="42"><tspan font-style="italic">h</tspan><tspan dy="10" dx="1" font-size="25">e</tspan></text>
<rect x="187.9" y="1950.5" width="69.6" height="42.0" fill="url(#hb)" stroke="#0000ff" stroke-width="2.4"/>
<text x="277.0" y="1984.6" font-size="42"><tspan font-style="italic">h</tspan><tspan dy="10" dx="1" font-size="25">p</tspan></text>
<rect x="187.9" y="2011.5" width="69.6" height="42.6" fill="url(#hr)" stroke="#ff0000" stroke-width="2.4"/>
<text x="277.0" y="2045.6" font-size="42"><tspan font-style="italic">h</tspan><tspan dy="10" dx="1" font-size="25">c</tspan></text>
<text x="880.0" y="1867.8" font-size="61">j</text>
<text x="982.0" y="2344.1" font-size="38.5" text-anchor="end">50</text>
<text x="982.0" y="2187.5" font-size="38.5" text-anchor="end">100</text>
<text x="982.0" y="2030.8" font-size="38.5" text-anchor="end">150</text>
<text x="982.0" y="1874.1" font-size="38.5" text-anchor="end">200</text>
<text x="992.9" y="2436.5" font-size="38.5" text-anchor="middle">0</text>
<text x="1103.0" y="2436.5" font-size="38.5" text-anchor="middle">10</text>
<text x="1213.2" y="2436.5" font-size="38.5" text-anchor="middle">20</text>
<text x="1323.5" y="2436.5" font-size="38.5" text-anchor="middle">30</text>
<text x="1433.7" y="2436.5" font-size="38.5" text-anchor="middle">40</text>
<text x="1543.8" y="2436.5" font-size="38.5" text-anchor="middle">50</text>
<text x="1654.0" y="2436.5" font-size="38.5" text-anchor="middle">60</text>
<path d="M992.85,2332.2h10.4M992.85,2175.6h10.4M992.85,2018.9h10.4M992.85,2253.9h5M992.85,2097.2h5M992.85,1940.5h5M1103.0,2394.9v-10.4M1213.2,2394.9v-10.4M1323.5,2394.9v-10.4M1433.7,2394.9v-10.4M1543.8,2394.9v-10.4M1048.0,2394.9v-5M1158.2,2394.9v-5M1268.3,2394.9v-5M1378.5,2394.9v-5M1488.8,2394.9v-5M1598.9,2394.9v-5" stroke="#000" stroke-width="4.8" fill="none"/>
<path fill-rule="evenodd" d="M990.4,1859.75H1656.5V2397.4H990.4ZM995.3,1864.65V2392.5H1651.6V1864.65Z"/>
<clipPath id="cj"><rect x="992.85" y="1862.2" width="661.1999999999999" height="532.7"/></clipPath><g clip-path="url(#cj)">
<g fill="#000"><circle cx="992.9" cy="2339.7" r="10.2"/><circle cx="1070.0" cy="2304.0" r="10.2"/><circle cx="1147.1" cy="2298.4" r="10.2"/><circle cx="1224.3" cy="2294.6" r="10.2"/><circle cx="1301.4" cy="2292.7" r="10.2"/><circle cx="1378.5" cy="2291.5" r="10.2"/><circle cx="1455.7" cy="2289.6" r="10.2"/><circle cx="1532.8" cy="2288.7" r="10.2"/><circle cx="1610.0" cy="2287.1" r="10.2"/><circle cx="1654.0" cy="2286.8" r="10.2"/></g>
<g fill="#0000ff"><circle cx="992.9" cy="2269.6" r="10.2"/><circle cx="1070.0" cy="2198.4" r="10.2"/><circle cx="1147.1" cy="2189.7" r="10.2"/><circle cx="1224.3" cy="2186.2" r="10.2"/><circle cx="1301.4" cy="2183.7" r="10.2"/><circle cx="1378.5" cy="2181.5" r="10.2"/><circle cx="1455.7" cy="2179.9" r="10.2"/><circle cx="1532.8" cy="2178.4" r="10.2"/><circle cx="1610.0" cy="2177.4" r="10.2"/><circle cx="1654.0" cy="2177.1" r="10.2"/></g>
<g fill="#ff7f0e"><circle cx="992.9" cy="2180.6" r="10.2"/><circle cx="1070.0" cy="2080.9" r="10.2"/><circle cx="1147.1" cy="2066.8" r="10.2"/><circle cx="1224.3" cy="2059.0" r="10.2"/><circle cx="1301.4" cy="2053.7" r="10.2"/><circle cx="1378.5" cy="2051.5" r="10.2"/><circle cx="1455.7" cy="2048.3" r="10.2"/><circle cx="1532.8" cy="2045.8" r="10.2"/><circle cx="1610.0" cy="2043.6" r="10.2"/><circle cx="1654.0" cy="2043.0" r="10.2"/></g>
<path d="M992.9,2181.8 C993.1,2176.6 993.7,2158.6 994.5,2150.5 C995.3,2142.4 996.4,2138.2 997.8,2133.2 C999.2,2128.3 1000.6,2124.9 1002.8,2120.7 C1005.0,2116.5 1007.7,2112.0 1011.0,2108.2 C1014.3,2104.4 1017.4,2101.1 1022.6,2097.8 C1027.8,2094.5 1034.5,2091.3 1042.4,2088.4 C1050.3,2085.6 1059.9,2083.1 1070.0,2080.6 C1080.1,2078.1 1090.2,2075.7 1103.0,2073.4 C1115.9,2071.0 1126.9,2068.9 1147.1,2066.5 C1167.3,2064.1 1198.6,2061.1 1224.3,2059.0 C1250.0,2056.9 1275.7,2055.3 1301.4,2054.0 C1327.1,2052.6 1352.8,2051.8 1378.5,2050.8 C1404.3,2049.8 1430.0,2048.9 1455.7,2048.0 C1481.4,2047.2 1507.1,2046.5 1532.8,2045.8 C1558.5,2045.1 1589.8,2044.4 1610.0,2043.9 C1630.2,2043.5 1646.7,2043.2 1654.0,2043.0" fill="none" stroke="#ff0000" stroke-width="5"/>
<path d="M992.9,2240.1 C993.4,2238.5 995.0,2233.2 996.2,2230.4 C997.3,2227.6 997.9,2225.8 999.9,2223.2 C1001.9,2220.6 1003.6,2217.5 1008.3,2214.7 C1013.0,2212.0 1017.8,2209.3 1028.1,2206.6 C1038.4,2203.8 1057.5,2200.3 1070.0,2198.1 C1082.5,2196.0 1090.2,2195.1 1103.0,2193.7 C1115.9,2192.3 1126.9,2191.0 1147.1,2189.7 C1167.3,2188.3 1198.6,2186.7 1224.3,2185.6 C1250.0,2184.5 1275.7,2183.8 1301.4,2183.1 C1327.1,2182.3 1352.8,2181.8 1378.5,2181.2 C1404.3,2180.6 1430.0,2180.1 1455.7,2179.6 C1481.4,2179.2 1507.1,2178.7 1532.8,2178.4 C1558.5,2178.0 1589.8,2177.6 1610.0,2177.4 C1630.2,2177.2 1646.7,2177.2 1654.0,2177.1" fill="none" stroke="#ff0000" stroke-width="5"/>
<path d="M992.9,2356.7 C993.0,2353.6 993.5,2343.9 994.0,2338.5 C994.4,2333.1 994.6,2328.2 995.6,2324.4 C996.6,2320.6 997.8,2317.9 999.9,2315.9 C1002.0,2313.9 1003.6,2313.6 1008.3,2312.5 C1013.0,2311.3 1017.8,2310.5 1028.1,2309.0 C1038.4,2307.6 1057.5,2305.1 1070.0,2303.7 C1082.5,2302.4 1090.2,2301.8 1103.0,2300.9 C1115.9,2299.9 1126.9,2299.1 1147.1,2298.1 C1167.3,2297.0 1198.6,2295.6 1224.3,2294.6 C1250.0,2293.7 1275.7,2293.1 1301.4,2292.4 C1327.1,2291.8 1352.8,2291.3 1378.5,2290.9 C1404.3,2290.4 1430.0,2290.0 1455.7,2289.6 C1481.4,2289.2 1507.1,2289.0 1532.8,2288.7 C1558.5,2288.3 1589.8,2287.7 1610.0,2287.4 C1630.2,2287.1 1646.7,2286.9 1654.0,2286.8" fill="none" stroke="#ff0000" stroke-width="5"/>
</g>
<text x="1323.3" y="2484.6" font-size="44.8" text-anchor="middle" textLength="309.0" lengthAdjust="spacingAndGlyphs">Holding time (s)</text>
<text x="910.9" y="2129.6" font-size="40" text-anchor="middle" transform="rotate(-90 910.9 2129.6)"><tspan font-style="italic">h</tspan> (nm)</text>
<circle cx="1047.8" cy="1892" r="10.2" fill="#000"/>
<circle cx="1047.8" cy="1937.8" r="10.2" fill="#0000ff"/>
<circle cx="1047.8" cy="1976.6" r="10.2" fill="#ff7f0e"/>
<path d="M1016.9,2015.8H1079.6" stroke="#ff0000" stroke-width="5.2" stroke-linecap="round"/>
<text x="1088.3" y="1903.4" font-size="31.5" textLength="186.9" lengthAdjust="spacingAndGlyphs">PM6:PC<tspan dy="7.5" font-size="0.68em">71</tspan><tspan dy="-7.5">BM</tspan></text>
<text x="1088.3" y="1948.7" font-size="31.5" textLength="112.0" lengthAdjust="spacingAndGlyphs">PM6:Y6</text>
<text x="1088.3" y="1988.1" font-size="31.5" textLength="187.8" lengthAdjust="spacingAndGlyphs">PM6:PRi-C39</text>
<text x="1096.5" y="2027.1" font-size="31.3" textLength="172.0" lengthAdjust="spacingAndGlyphs">Fitting curve</text>
</svg>
</body></html>
